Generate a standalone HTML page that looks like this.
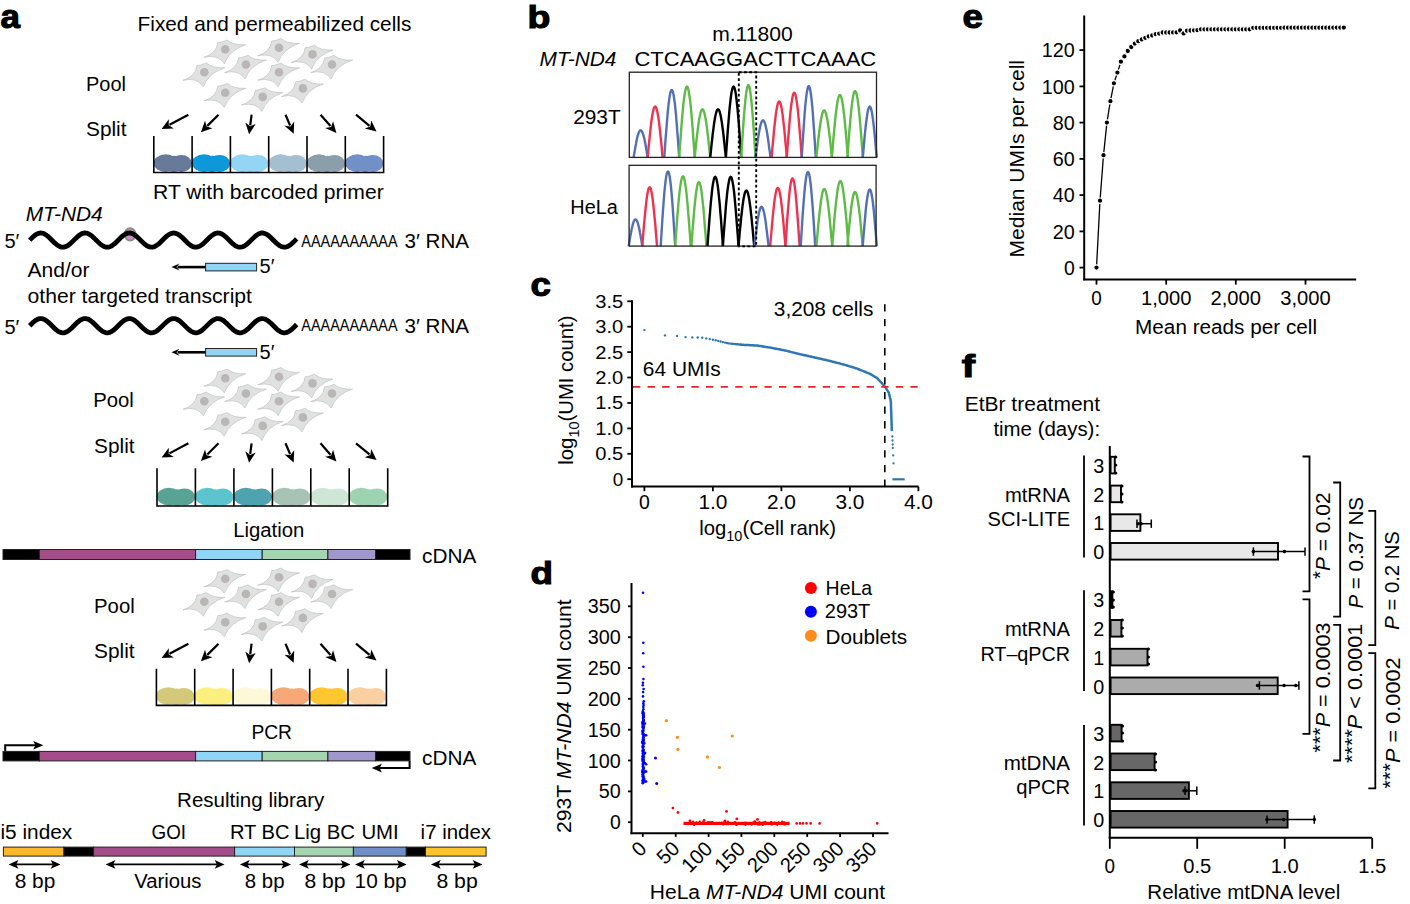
<!DOCTYPE html>
<html><head><meta charset="utf-8"><style>
html,body{margin:0;padding:0;background:#fff;width:1410px;height:904px;overflow:hidden}
svg{display:block;font-family:"Liberation Sans", sans-serif}
</style></head><body>
<svg width="1410" height="904" viewBox="0 0 1410 904">
<rect width="1410" height="904" fill="#fff"/>
<text transform="translate(0.5,28) scale(1.03,1)" font-size="34" font-weight="bold" stroke="#000" stroke-width="1.1">a</text>
<text x="137.6" y="31.0" font-size="20.3" textLength="273.7" lengthAdjust="spacingAndGlyphs">Fixed and permeabilized cells</text>
<g transform="translate(225.2,49.2)"><path d="M-21.3,8.1 Q-8.6,4.3 -7.4,-6.6 L-3.5,-7.2 L2.1,-9.2 Q7.9,-3.8 20.5,-4.4 Q4.4,0.6 -0.9,14.6 Q-6.9,4.8 -21.3,8.1 Z" fill="#e0e1e1" stroke="#b0b0b0" stroke-width="0.5"/><circle r="4.3" fill="#bab6b6"/></g>
<g transform="translate(279.0,47.7)"><path d="M-21.3,8.1 Q-8.6,4.3 -7.4,-6.6 L-3.5,-7.2 L2.1,-9.2 Q7.9,-3.8 20.5,-4.4 Q4.4,0.6 -0.9,14.6 Q-6.9,4.8 -21.3,8.1 Z" fill="#e0e1e1" stroke="#b0b0b0" stroke-width="0.5"/><circle r="4.3" fill="#bab6b6"/></g>
<g transform="translate(312.5,54.4)"><path d="M-21.3,8.1 Q-8.6,4.3 -7.4,-6.6 L-3.5,-7.2 L2.1,-9.2 Q7.9,-3.8 20.5,-4.4 Q4.4,0.6 -0.9,14.6 Q-6.9,4.8 -21.3,8.1 Z" fill="#e0e1e1" stroke="#b0b0b0" stroke-width="0.5"/><circle r="4.3" fill="#bab6b6"/></g>
<g transform="translate(245.9,64.5)"><path d="M-21.3,8.1 Q-8.6,4.3 -7.4,-6.6 L-3.5,-7.2 L2.1,-9.2 Q7.9,-3.8 20.5,-4.4 Q4.4,0.6 -0.9,14.6 Q-6.9,4.8 -21.3,8.1 Z" fill="#e0e1e1" stroke="#b0b0b0" stroke-width="0.5"/><circle r="4.3" fill="#bab6b6"/></g>
<g transform="translate(204.3,72.2)"><path d="M-21.3,8.1 Q-8.6,4.3 -7.4,-6.6 L-3.5,-7.2 L2.1,-9.2 Q7.9,-3.8 20.5,-4.4 Q4.4,0.6 -0.9,14.6 Q-6.9,4.8 -21.3,8.1 Z" fill="#e0e1e1" stroke="#b0b0b0" stroke-width="0.5"/><circle r="4.3" fill="#bab6b6"/></g>
<g transform="translate(279.0,72.2)"><path d="M-21.3,8.1 Q-8.6,4.3 -7.4,-6.6 L-3.5,-7.2 L2.1,-9.2 Q7.9,-3.8 20.5,-4.4 Q4.4,0.6 -0.9,14.6 Q-6.9,4.8 -21.3,8.1 Z" fill="#e0e1e1" stroke="#b0b0b0" stroke-width="0.5"/><circle r="4.3" fill="#bab6b6"/></g>
<g transform="translate(332.0,64.5)"><path d="M-21.3,8.1 Q-8.6,4.3 -7.4,-6.6 L-3.5,-7.2 L2.1,-9.2 Q7.9,-3.8 20.5,-4.4 Q4.4,0.6 -0.9,14.6 Q-6.9,4.8 -21.3,8.1 Z" fill="#e0e1e1" stroke="#b0b0b0" stroke-width="0.5"/><circle r="4.3" fill="#bab6b6"/></g>
<g transform="translate(225.2,92.7)"><path d="M-21.3,8.1 Q-8.6,4.3 -7.4,-6.6 L-3.5,-7.2 L2.1,-9.2 Q7.9,-3.8 20.5,-4.4 Q4.4,0.6 -0.9,14.6 Q-6.9,4.8 -21.3,8.1 Z" fill="#e0e1e1" stroke="#b0b0b0" stroke-width="0.5"/><circle r="4.3" fill="#bab6b6"/></g>
<g transform="translate(262.7,96.9)"><path d="M-21.3,8.1 Q-8.6,4.3 -7.4,-6.6 L-3.5,-7.2 L2.1,-9.2 Q7.9,-3.8 20.5,-4.4 Q4.4,0.6 -0.9,14.6 Q-6.9,4.8 -21.3,8.1 Z" fill="#e0e1e1" stroke="#b0b0b0" stroke-width="0.5"/><circle r="4.3" fill="#bab6b6"/></g>
<g transform="translate(302.9,88.4)"><path d="M-21.3,8.1 Q-8.6,4.3 -7.4,-6.6 L-3.5,-7.2 L2.1,-9.2 Q7.9,-3.8 20.5,-4.4 Q4.4,0.6 -0.9,14.6 Q-6.9,4.8 -21.3,8.1 Z" fill="#e0e1e1" stroke="#b0b0b0" stroke-width="0.5"/><circle r="4.3" fill="#bab6b6"/></g>
<text x="86.0" y="90.8" font-size="20" textLength="40.0" lengthAdjust="spacingAndGlyphs">Pool</text>
<text x="86.0" y="135.6" font-size="20" textLength="40.5" lengthAdjust="spacingAndGlyphs">Split</text>
<line x1="188.4" y1="114.7" x2="169.5" y2="124.8" stroke="#000" stroke-width="2.2"/>
<path d="M161.6,129.0 L168.8,119.2 L168.7,125.2 L173.8,128.5 Z" fill="#000"/>
<line x1="218.5" y1="114.7" x2="207.3" y2="125.9" stroke="#000" stroke-width="2.2"/>
<path d="M200.9,132.3 L205.0,120.8 L206.6,126.6 L212.4,128.2 Z" fill="#000"/>
<line x1="251.6" y1="114.7" x2="250.2" y2="125.3" stroke="#000" stroke-width="2.2"/>
<path d="M249.1,134.2 L245.3,122.6 L250.1,126.3 L255.7,124.0 Z" fill="#000"/>
<line x1="285.5" y1="114.7" x2="290.1" y2="125.5" stroke="#000" stroke-width="2.2"/>
<path d="M293.7,133.8 L284.5,125.8 L290.5,126.4 L294.2,121.6 Z" fill="#000"/>
<line x1="320.5" y1="114.7" x2="330.5" y2="126.1" stroke="#000" stroke-width="2.2"/>
<path d="M336.4,132.9 L325.2,128.1 L331.1,126.9 L333.1,121.2 Z" fill="#000"/>
<line x1="356.0" y1="114.7" x2="369.5" y2="125.8" stroke="#000" stroke-width="2.2"/>
<path d="M376.5,131.5 L364.7,128.6 L370.3,126.4 L371.3,120.5 Z" fill="#000"/>
<ellipse cx="165.8" cy="163.1" rx="12.3" ry="8.8" fill="#687a9a"/>
<ellipse cx="181.3" cy="163.5" rx="10.6" ry="8.5" fill="#687a9a"/>
<ellipse cx="173.8" cy="164.0" rx="9" ry="8.3" fill="#687a9a"/>
<ellipse cx="204.1" cy="163.1" rx="12.3" ry="8.8" fill="#0e97d9"/>
<ellipse cx="219.6" cy="163.5" rx="10.6" ry="8.5" fill="#0e97d9"/>
<ellipse cx="212.1" cy="164.0" rx="9" ry="8.3" fill="#0e97d9"/>
<ellipse cx="242.4" cy="163.1" rx="12.3" ry="8.8" fill="#93d5f5"/>
<ellipse cx="257.9" cy="163.5" rx="10.6" ry="8.5" fill="#93d5f5"/>
<ellipse cx="250.4" cy="164.0" rx="9" ry="8.3" fill="#93d5f5"/>
<ellipse cx="280.7" cy="163.1" rx="12.3" ry="8.8" fill="#a3bfd0"/>
<ellipse cx="296.2" cy="163.5" rx="10.6" ry="8.5" fill="#a3bfd0"/>
<ellipse cx="288.7" cy="164.0" rx="9" ry="8.3" fill="#a3bfd0"/>
<ellipse cx="319.0" cy="163.1" rx="12.3" ry="8.8" fill="#8a9fa9"/>
<ellipse cx="334.5" cy="163.5" rx="10.6" ry="8.5" fill="#8a9fa9"/>
<ellipse cx="327.0" cy="164.0" rx="9" ry="8.3" fill="#8a9fa9"/>
<ellipse cx="357.3" cy="163.1" rx="12.3" ry="8.8" fill="#7290c8"/>
<ellipse cx="372.8" cy="163.5" rx="10.6" ry="8.5" fill="#7290c8"/>
<ellipse cx="365.3" cy="164.0" rx="9" ry="8.3" fill="#7290c8"/>
<path d="M153.8,136.0 V172.5 H383.6 V136.0" fill="none" stroke="#000" stroke-width="1.6"/>
<line x1="192.1" y1="136.0" x2="192.1" y2="172.5" stroke="#000" stroke-width="1.6"/>
<line x1="230.4" y1="136.0" x2="230.4" y2="172.5" stroke="#000" stroke-width="1.6"/>
<line x1="268.7" y1="136.0" x2="268.7" y2="172.5" stroke="#000" stroke-width="1.6"/>
<line x1="307.0" y1="136.0" x2="307.0" y2="172.5" stroke="#000" stroke-width="1.6"/>
<line x1="345.3" y1="136.0" x2="345.3" y2="172.5" stroke="#000" stroke-width="1.6"/>
<text x="153.0" y="199.0" font-size="20.3" textLength="230.7" lengthAdjust="spacingAndGlyphs">RT with barcoded primer</text>
<text x="25.7" y="221.0" font-size="20" textLength="77.0" lengthAdjust="spacingAndGlyphs" font-style="italic">MT-ND4</text>
<ellipse cx="130.1" cy="234.4" rx="5.4" ry="6.3" fill="#cf8cc0" stroke="#8a8a8a" stroke-width="1.8"/>
<polyline points="29.7,240.10 30.7,239.10 31.7,238.11 32.7,237.17 33.7,236.28 34.7,235.48 35.7,234.76 36.7,234.15 37.7,233.66 38.7,233.31 39.7,233.08 40.7,233.00 41.7,233.06 42.7,233.26 43.7,233.60 44.7,234.07 45.7,234.66 46.7,235.36 47.7,236.16 48.7,237.03 49.7,237.97 50.7,238.95 51.7,239.95 52.7,240.95 53.7,241.94 54.7,242.89 55.7,243.79 56.7,244.61 57.7,245.34 58.7,245.96 59.7,246.47 60.7,246.85 61.7,247.09 62.7,247.20 63.7,247.16 64.7,246.98 65.7,246.66 66.7,246.21 67.7,245.63 68.7,244.95 69.7,244.17 70.7,243.30 71.7,242.38 72.7,241.40 73.7,240.40 74.7,239.40 75.7,238.40 76.7,237.45 77.7,236.54 78.7,235.71 79.7,234.97 80.7,234.32 81.7,233.80 82.7,233.40 83.7,233.13 84.7,233.01 85.7,233.03 86.7,233.19 87.7,233.49 88.7,233.92 89.7,234.47 90.7,235.14 91.7,235.91 92.7,236.76 93.7,237.68 94.7,238.65 95.7,239.65 96.7,240.65 97.7,241.65 98.7,242.61 99.7,243.53 100.7,244.37 101.7,245.13 102.7,245.79 103.7,246.33 104.7,246.75 105.7,247.03 106.7,247.18 107.7,247.18 108.7,247.05 109.7,246.77 110.7,246.35 111.7,245.82 112.7,245.16 113.7,244.41 114.7,243.57 115.7,242.66 116.7,241.70 117.7,240.70 118.7,239.70 119.7,238.70 120.7,237.73 121.7,236.81 122.7,235.95 123.7,235.18 124.7,234.50 125.7,233.94 126.7,233.50 127.7,233.20 128.7,233.03 129.7,233.01 130.7,233.13 131.7,233.38 132.7,233.77 133.7,234.29 134.7,234.93 135.7,235.67 136.7,236.50 137.7,237.40 138.7,238.36 139.7,239.35 140.7,240.35 141.7,241.35 142.7,242.33 143.7,243.26 144.7,244.13 145.7,244.91 146.7,245.60 147.7,246.18 148.7,246.64 149.7,246.96 150.7,247.15 151.7,247.20 152.7,247.10 153.7,246.86 154.7,246.49 155.7,245.99 156.7,245.37 157.7,244.65 158.7,243.83 159.7,242.94 160.7,241.99 161.7,241.00 162.7,240.00 163.7,239.00 164.7,238.02 165.7,237.08 166.7,236.20 167.7,235.40 168.7,234.70 169.7,234.10 170.7,233.62 171.7,233.28 172.7,233.07 173.7,233.00 174.7,233.07 175.7,233.29 176.7,233.64 177.7,234.13 178.7,234.73 179.7,235.44 180.7,236.24 181.7,237.12 182.7,238.06 183.7,239.05 184.7,240.05 185.7,241.05 186.7,242.04 187.7,242.98 188.7,243.87 189.7,244.69 190.7,245.41 191.7,246.02 192.7,246.51 193.7,246.88 194.7,247.11 195.7,247.20 196.7,247.15 197.7,246.95 198.7,246.62 199.7,246.15 200.7,245.57 201.7,244.87 202.7,244.08 203.7,243.21 204.7,242.28 205.7,241.30 206.7,240.30 207.7,239.30 208.7,238.31 209.7,237.35 210.7,236.46 211.7,235.63 212.7,234.90 213.7,234.27 214.7,233.75 215.7,233.37 216.7,233.12 217.7,233.01 218.7,233.04 219.7,233.21 220.7,233.52 221.7,233.97 222.7,234.54 223.7,235.21 224.7,235.99 225.7,236.85 226.7,237.78 227.7,238.75 228.7,239.75 229.7,240.75 230.7,241.75 231.7,242.71 232.7,243.61 233.7,244.45 234.7,245.20 235.7,245.85 236.7,246.38 237.7,246.78 238.7,247.06 239.7,247.19 240.7,247.18 241.7,247.02 242.7,246.73 243.7,246.31 244.7,245.76 245.7,245.09 246.7,244.33 247.7,243.48 248.7,242.57 249.7,241.60 250.7,240.60 251.7,239.60 252.7,238.60 253.7,237.63 254.7,236.72 255.7,235.87 256.7,235.11 257.7,234.44 258.7,233.89 259.7,233.47 260.7,233.18 261.7,233.02 262.7,233.01 263.7,233.14 264.7,233.42 265.7,233.82 266.7,234.35 267.7,235.00 268.7,235.75 269.7,236.59 270.7,237.49 271.7,238.45 272.7,239.45 273.7,240.45 274.7,241.45 275.7,242.42 276.7,243.35 277.7,244.21 278.7,244.99 279.7,245.66 280.7,246.23 281.7,246.68 282.7,246.99 283.7,247.16 284.7,247.19 285.7,247.08 286.7,246.83 287.7,246.45 288.7,245.93 289.7,245.30 290.7,244.57 291.7,243.74 292.7,242.85 293.7,241.89 294.7,240.90 295.7,239.90 296.7,238.90" fill="none" stroke="#000" stroke-width="4.8"/>
<text x="4.4" y="247.8" font-size="20">5′</text>
<text x="301.3" y="246.8" font-size="16.6" textLength="96.3" lengthAdjust="spacingAndGlyphs">AAAAAAAAAA</text>
<text x="404.5" y="248.3" font-size="20" textLength="64.5" lengthAdjust="spacingAndGlyphs">3′ RNA</text>
<line x1="205.7" y1="267.1" x2="177.5" y2="267.1" stroke="#000" stroke-width="2.6"/>
<path d="M171.5,267.1 L179.5,263.6 L176.5,267.1 L179.5,270.6 Z" fill="#000"/>
<rect x="205.6" y="263.3" width="51.0" height="7.6" fill="#90d5f5" stroke="#222" stroke-width="1"/>
<text x="259.6" y="273.4" font-size="20">5′</text>
<text x="27.5" y="276.9" font-size="20" textLength="62.0" lengthAdjust="spacingAndGlyphs">And/or</text>
<text x="27.5" y="302.6" font-size="20.3" textLength="224.5" lengthAdjust="spacingAndGlyphs">other targeted transcript</text>
<polyline points="29.7,325.70 30.7,324.70 31.7,323.71 32.7,322.77 33.7,321.88 34.7,321.08 35.7,320.36 36.7,319.75 37.7,319.26 38.7,318.91 39.7,318.68 40.7,318.60 41.7,318.66 42.7,318.86 43.7,319.20 44.7,319.67 45.7,320.26 46.7,320.96 47.7,321.76 48.7,322.63 49.7,323.57 50.7,324.55 51.7,325.55 52.7,326.55 53.7,327.54 54.7,328.49 55.7,329.39 56.7,330.21 57.7,330.94 58.7,331.56 59.7,332.07 60.7,332.45 61.7,332.69 62.7,332.80 63.7,332.76 64.7,332.58 65.7,332.26 66.7,331.81 67.7,331.23 68.7,330.55 69.7,329.77 70.7,328.90 71.7,327.98 72.7,327.00 73.7,326.00 74.7,325.00 75.7,324.00 76.7,323.05 77.7,322.14 78.7,321.31 79.7,320.57 80.7,319.92 81.7,319.40 82.7,319.00 83.7,318.73 84.7,318.61 85.7,318.63 86.7,318.79 87.7,319.09 88.7,319.52 89.7,320.07 90.7,320.74 91.7,321.51 92.7,322.36 93.7,323.28 94.7,324.25 95.7,325.25 96.7,326.25 97.7,327.25 98.7,328.21 99.7,329.13 100.7,329.97 101.7,330.73 102.7,331.39 103.7,331.93 104.7,332.35 105.7,332.63 106.7,332.78 107.7,332.78 108.7,332.65 109.7,332.37 110.7,331.95 111.7,331.42 112.7,330.76 113.7,330.01 114.7,329.17 115.7,328.26 116.7,327.30 117.7,326.30 118.7,325.30 119.7,324.30 120.7,323.33 121.7,322.41 122.7,321.55 123.7,320.78 124.7,320.10 125.7,319.54 126.7,319.10 127.7,318.80 128.7,318.63 129.7,318.61 130.7,318.73 131.7,318.98 132.7,319.37 133.7,319.89 134.7,320.53 135.7,321.27 136.7,322.10 137.7,323.00 138.7,323.96 139.7,324.95 140.7,325.95 141.7,326.95 142.7,327.93 143.7,328.86 144.7,329.73 145.7,330.51 146.7,331.20 147.7,331.78 148.7,332.24 149.7,332.56 150.7,332.75 151.7,332.80 152.7,332.70 153.7,332.46 154.7,332.09 155.7,331.59 156.7,330.97 157.7,330.25 158.7,329.43 159.7,328.54 160.7,327.59 161.7,326.60 162.7,325.60 163.7,324.60 164.7,323.62 165.7,322.68 166.7,321.80 167.7,321.00 168.7,320.30 169.7,319.70 170.7,319.22 171.7,318.88 172.7,318.67 173.7,318.60 174.7,318.67 175.7,318.89 176.7,319.24 177.7,319.73 178.7,320.33 179.7,321.04 180.7,321.84 181.7,322.72 182.7,323.66 183.7,324.65 184.7,325.65 185.7,326.65 186.7,327.64 187.7,328.58 188.7,329.47 189.7,330.29 190.7,331.01 191.7,331.62 192.7,332.11 193.7,332.48 194.7,332.71 195.7,332.80 196.7,332.75 197.7,332.55 198.7,332.22 199.7,331.75 200.7,331.17 201.7,330.47 202.7,329.68 203.7,328.81 204.7,327.88 205.7,326.90 206.7,325.90 207.7,324.90 208.7,323.91 209.7,322.95 210.7,322.06 211.7,321.23 212.7,320.50 213.7,319.87 214.7,319.35 215.7,318.97 216.7,318.72 217.7,318.61 218.7,318.64 219.7,318.81 220.7,319.12 221.7,319.57 222.7,320.14 223.7,320.81 224.7,321.59 225.7,322.45 226.7,323.38 227.7,324.35 228.7,325.35 229.7,326.35 230.7,327.35 231.7,328.31 232.7,329.21 233.7,330.05 234.7,330.80 235.7,331.45 236.7,331.98 237.7,332.38 238.7,332.66 239.7,332.79 240.7,332.78 241.7,332.62 242.7,332.33 243.7,331.91 244.7,331.36 245.7,330.69 246.7,329.93 247.7,329.08 248.7,328.17 249.7,327.20 250.7,326.20 251.7,325.20 252.7,324.20 253.7,323.23 254.7,322.32 255.7,321.47 256.7,320.71 257.7,320.04 258.7,319.49 259.7,319.07 260.7,318.78 261.7,318.62 262.7,318.61 263.7,318.74 264.7,319.02 265.7,319.42 266.7,319.95 267.7,320.60 268.7,321.35 269.7,322.19 270.7,323.09 271.7,324.05 272.7,325.05 273.7,326.05 274.7,327.05 275.7,328.02 276.7,328.95 277.7,329.81 278.7,330.59 279.7,331.26 280.7,331.83 281.7,332.28 282.7,332.59 283.7,332.76 284.7,332.79 285.7,332.68 286.7,332.43 287.7,332.05 288.7,331.53 289.7,330.90 290.7,330.17 291.7,329.34 292.7,328.45 293.7,327.49 294.7,326.50 295.7,325.50 296.7,324.50" fill="none" stroke="#000" stroke-width="4.8"/>
<text x="4.4" y="333.5" font-size="20">5′</text>
<text x="301.3" y="331.4" font-size="16.6" textLength="96.3" lengthAdjust="spacingAndGlyphs">AAAAAAAAAA</text>
<text x="404.5" y="333.0" font-size="20" textLength="64.5" lengthAdjust="spacingAndGlyphs">3′ RNA</text>
<line x1="205.7" y1="352.3" x2="177.5" y2="352.3" stroke="#000" stroke-width="2.6"/>
<path d="M171.5,352.3 L179.5,348.8 L176.5,352.3 L179.5,355.8 Z" fill="#000"/>
<rect x="205.6" y="348.5" width="51.0" height="7.6" fill="#90d5f5" stroke="#222" stroke-width="1"/>
<text x="259.6" y="358.6" font-size="20">5′</text>
<g transform="translate(225.2,378.2)"><path d="M-21.3,8.1 Q-8.6,4.3 -7.4,-6.6 L-3.5,-7.2 L2.1,-9.2 Q7.9,-3.8 20.5,-4.4 Q4.4,0.6 -0.9,14.6 Q-6.9,4.8 -21.3,8.1 Z" fill="#e0e1e1" stroke="#b0b0b0" stroke-width="0.5"/><circle r="4.3" fill="#bab6b6"/></g>
<g transform="translate(279.0,376.7)"><path d="M-21.3,8.1 Q-8.6,4.3 -7.4,-6.6 L-3.5,-7.2 L2.1,-9.2 Q7.9,-3.8 20.5,-4.4 Q4.4,0.6 -0.9,14.6 Q-6.9,4.8 -21.3,8.1 Z" fill="#e0e1e1" stroke="#b0b0b0" stroke-width="0.5"/><circle r="4.3" fill="#bab6b6"/></g>
<g transform="translate(312.5,383.4)"><path d="M-21.3,8.1 Q-8.6,4.3 -7.4,-6.6 L-3.5,-7.2 L2.1,-9.2 Q7.9,-3.8 20.5,-4.4 Q4.4,0.6 -0.9,14.6 Q-6.9,4.8 -21.3,8.1 Z" fill="#e0e1e1" stroke="#b0b0b0" stroke-width="0.5"/><circle r="4.3" fill="#bab6b6"/></g>
<g transform="translate(245.9,393.5)"><path d="M-21.3,8.1 Q-8.6,4.3 -7.4,-6.6 L-3.5,-7.2 L2.1,-9.2 Q7.9,-3.8 20.5,-4.4 Q4.4,0.6 -0.9,14.6 Q-6.9,4.8 -21.3,8.1 Z" fill="#e0e1e1" stroke="#b0b0b0" stroke-width="0.5"/><circle r="4.3" fill="#bab6b6"/></g>
<g transform="translate(204.3,401.2)"><path d="M-21.3,8.1 Q-8.6,4.3 -7.4,-6.6 L-3.5,-7.2 L2.1,-9.2 Q7.9,-3.8 20.5,-4.4 Q4.4,0.6 -0.9,14.6 Q-6.9,4.8 -21.3,8.1 Z" fill="#e0e1e1" stroke="#b0b0b0" stroke-width="0.5"/><circle r="4.3" fill="#bab6b6"/></g>
<g transform="translate(279.0,401.2)"><path d="M-21.3,8.1 Q-8.6,4.3 -7.4,-6.6 L-3.5,-7.2 L2.1,-9.2 Q7.9,-3.8 20.5,-4.4 Q4.4,0.6 -0.9,14.6 Q-6.9,4.8 -21.3,8.1 Z" fill="#e0e1e1" stroke="#b0b0b0" stroke-width="0.5"/><circle r="4.3" fill="#bab6b6"/></g>
<g transform="translate(332.0,393.5)"><path d="M-21.3,8.1 Q-8.6,4.3 -7.4,-6.6 L-3.5,-7.2 L2.1,-9.2 Q7.9,-3.8 20.5,-4.4 Q4.4,0.6 -0.9,14.6 Q-6.9,4.8 -21.3,8.1 Z" fill="#e0e1e1" stroke="#b0b0b0" stroke-width="0.5"/><circle r="4.3" fill="#bab6b6"/></g>
<g transform="translate(225.2,421.7)"><path d="M-21.3,8.1 Q-8.6,4.3 -7.4,-6.6 L-3.5,-7.2 L2.1,-9.2 Q7.9,-3.8 20.5,-4.4 Q4.4,0.6 -0.9,14.6 Q-6.9,4.8 -21.3,8.1 Z" fill="#e0e1e1" stroke="#b0b0b0" stroke-width="0.5"/><circle r="4.3" fill="#bab6b6"/></g>
<g transform="translate(262.7,425.9)"><path d="M-21.3,8.1 Q-8.6,4.3 -7.4,-6.6 L-3.5,-7.2 L2.1,-9.2 Q7.9,-3.8 20.5,-4.4 Q4.4,0.6 -0.9,14.6 Q-6.9,4.8 -21.3,8.1 Z" fill="#e0e1e1" stroke="#b0b0b0" stroke-width="0.5"/><circle r="4.3" fill="#bab6b6"/></g>
<g transform="translate(302.9,417.4)"><path d="M-21.3,8.1 Q-8.6,4.3 -7.4,-6.6 L-3.5,-7.2 L2.1,-9.2 Q7.9,-3.8 20.5,-4.4 Q4.4,0.6 -0.9,14.6 Q-6.9,4.8 -21.3,8.1 Z" fill="#e0e1e1" stroke="#b0b0b0" stroke-width="0.5"/><circle r="4.3" fill="#bab6b6"/></g>
<text x="93.2" y="407.0" font-size="20" textLength="40.6" lengthAdjust="spacingAndGlyphs">Pool</text>
<text x="94.1" y="452.9" font-size="20" textLength="40.5" lengthAdjust="spacingAndGlyphs">Split</text>
<line x1="188.4" y1="443.3" x2="169.5" y2="453.4" stroke="#000" stroke-width="2.2"/>
<path d="M161.6,457.6 L168.8,447.8 L168.7,453.8 L173.8,457.1 Z" fill="#000"/>
<line x1="218.5" y1="443.3" x2="207.3" y2="454.5" stroke="#000" stroke-width="2.2"/>
<path d="M200.9,460.9 L205.0,449.4 L206.6,455.2 L212.4,456.8 Z" fill="#000"/>
<line x1="251.6" y1="443.3" x2="250.2" y2="453.9" stroke="#000" stroke-width="2.2"/>
<path d="M249.1,462.8 L245.3,451.2 L250.1,454.9 L255.7,452.6 Z" fill="#000"/>
<line x1="285.5" y1="443.3" x2="290.1" y2="454.1" stroke="#000" stroke-width="2.2"/>
<path d="M293.7,462.4 L284.5,454.4 L290.5,455.0 L294.2,450.2 Z" fill="#000"/>
<line x1="320.5" y1="443.3" x2="330.5" y2="454.7" stroke="#000" stroke-width="2.2"/>
<path d="M336.4,461.5 L325.2,456.7 L331.1,455.5 L333.1,449.8 Z" fill="#000"/>
<line x1="356.0" y1="443.3" x2="369.5" y2="454.4" stroke="#000" stroke-width="2.2"/>
<path d="M376.5,460.1 L364.7,457.2 L370.3,455.0 L371.3,449.1 Z" fill="#000"/>
<ellipse cx="169.0" cy="496.6" rx="12.3" ry="8.8" fill="#58a394"/>
<ellipse cx="184.5" cy="497.0" rx="10.6" ry="8.5" fill="#58a394"/>
<ellipse cx="177.0" cy="497.5" rx="9" ry="8.3" fill="#58a394"/>
<ellipse cx="207.4" cy="496.6" rx="12.3" ry="8.8" fill="#5cc4cf"/>
<ellipse cx="222.9" cy="497.0" rx="10.6" ry="8.5" fill="#5cc4cf"/>
<ellipse cx="215.4" cy="497.5" rx="9" ry="8.3" fill="#5cc4cf"/>
<ellipse cx="245.9" cy="496.6" rx="12.3" ry="8.8" fill="#4fa3b0"/>
<ellipse cx="261.4" cy="497.0" rx="10.6" ry="8.5" fill="#4fa3b0"/>
<ellipse cx="253.9" cy="497.5" rx="9" ry="8.3" fill="#4fa3b0"/>
<ellipse cx="284.4" cy="496.6" rx="12.3" ry="8.8" fill="#a7c3b5"/>
<ellipse cx="299.9" cy="497.0" rx="10.6" ry="8.5" fill="#a7c3b5"/>
<ellipse cx="292.4" cy="497.5" rx="9" ry="8.3" fill="#a7c3b5"/>
<ellipse cx="322.8" cy="496.6" rx="12.3" ry="8.8" fill="#cde6d6"/>
<ellipse cx="338.3" cy="497.0" rx="10.6" ry="8.5" fill="#cde6d6"/>
<ellipse cx="330.8" cy="497.5" rx="9" ry="8.3" fill="#cde6d6"/>
<ellipse cx="361.2" cy="496.6" rx="12.3" ry="8.8" fill="#9dd3b0"/>
<ellipse cx="376.8" cy="497.0" rx="10.6" ry="8.5" fill="#9dd3b0"/>
<ellipse cx="369.2" cy="497.5" rx="9" ry="8.3" fill="#9dd3b0"/>
<path d="M157.0,468.3 V506.0 H387.7 V468.3" fill="none" stroke="#000" stroke-width="1.6"/>
<line x1="195.4" y1="468.3" x2="195.4" y2="506.0" stroke="#000" stroke-width="1.6"/>
<line x1="233.9" y1="468.3" x2="233.9" y2="506.0" stroke="#000" stroke-width="1.6"/>
<line x1="272.4" y1="468.3" x2="272.4" y2="506.0" stroke="#000" stroke-width="1.6"/>
<line x1="310.8" y1="468.3" x2="310.8" y2="506.0" stroke="#000" stroke-width="1.6"/>
<line x1="349.2" y1="468.3" x2="349.2" y2="506.0" stroke="#000" stroke-width="1.6"/>
<text x="233.2" y="536.5" font-size="20" textLength="71.1" lengthAdjust="spacingAndGlyphs">Ligation</text>
<text x="422.1" y="563.0" font-size="20" textLength="54.3" lengthAdjust="spacingAndGlyphs">cDNA</text>
<rect x="3.0" y="549.5" width="36.4" height="10.0" fill="#000" stroke="#222" stroke-width="1.0"/>
<rect x="39.4" y="549.5" width="156.2" height="10.0" fill="#a54c8a" stroke="#222" stroke-width="1.0"/>
<rect x="195.6" y="549.5" width="66.6" height="10.0" fill="#8fd5f5" stroke="#222" stroke-width="1.0"/>
<rect x="262.2" y="549.5" width="65.7" height="10.0" fill="#a3d6b0" stroke="#222" stroke-width="1.0"/>
<rect x="327.9" y="549.5" width="47.7" height="10.0" fill="#a097cc" stroke="#222" stroke-width="1.0"/>
<rect x="375.6" y="549.5" width="34.4" height="10.0" fill="#000" stroke="#222" stroke-width="1.0"/>
<g transform="translate(225.2,578.7)"><path d="M-21.3,8.1 Q-8.6,4.3 -7.4,-6.6 L-3.5,-7.2 L2.1,-9.2 Q7.9,-3.8 20.5,-4.4 Q4.4,0.6 -0.9,14.6 Q-6.9,4.8 -21.3,8.1 Z" fill="#e0e1e1" stroke="#b0b0b0" stroke-width="0.5"/><circle r="4.3" fill="#bab6b6"/></g>
<g transform="translate(279.0,577.2)"><path d="M-21.3,8.1 Q-8.6,4.3 -7.4,-6.6 L-3.5,-7.2 L2.1,-9.2 Q7.9,-3.8 20.5,-4.4 Q4.4,0.6 -0.9,14.6 Q-6.9,4.8 -21.3,8.1 Z" fill="#e0e1e1" stroke="#b0b0b0" stroke-width="0.5"/><circle r="4.3" fill="#bab6b6"/></g>
<g transform="translate(312.5,583.9)"><path d="M-21.3,8.1 Q-8.6,4.3 -7.4,-6.6 L-3.5,-7.2 L2.1,-9.2 Q7.9,-3.8 20.5,-4.4 Q4.4,0.6 -0.9,14.6 Q-6.9,4.8 -21.3,8.1 Z" fill="#e0e1e1" stroke="#b0b0b0" stroke-width="0.5"/><circle r="4.3" fill="#bab6b6"/></g>
<g transform="translate(245.9,594.0)"><path d="M-21.3,8.1 Q-8.6,4.3 -7.4,-6.6 L-3.5,-7.2 L2.1,-9.2 Q7.9,-3.8 20.5,-4.4 Q4.4,0.6 -0.9,14.6 Q-6.9,4.8 -21.3,8.1 Z" fill="#e0e1e1" stroke="#b0b0b0" stroke-width="0.5"/><circle r="4.3" fill="#bab6b6"/></g>
<g transform="translate(204.3,601.7)"><path d="M-21.3,8.1 Q-8.6,4.3 -7.4,-6.6 L-3.5,-7.2 L2.1,-9.2 Q7.9,-3.8 20.5,-4.4 Q4.4,0.6 -0.9,14.6 Q-6.9,4.8 -21.3,8.1 Z" fill="#e0e1e1" stroke="#b0b0b0" stroke-width="0.5"/><circle r="4.3" fill="#bab6b6"/></g>
<g transform="translate(279.0,601.7)"><path d="M-21.3,8.1 Q-8.6,4.3 -7.4,-6.6 L-3.5,-7.2 L2.1,-9.2 Q7.9,-3.8 20.5,-4.4 Q4.4,0.6 -0.9,14.6 Q-6.9,4.8 -21.3,8.1 Z" fill="#e0e1e1" stroke="#b0b0b0" stroke-width="0.5"/><circle r="4.3" fill="#bab6b6"/></g>
<g transform="translate(332.0,594.0)"><path d="M-21.3,8.1 Q-8.6,4.3 -7.4,-6.6 L-3.5,-7.2 L2.1,-9.2 Q7.9,-3.8 20.5,-4.4 Q4.4,0.6 -0.9,14.6 Q-6.9,4.8 -21.3,8.1 Z" fill="#e0e1e1" stroke="#b0b0b0" stroke-width="0.5"/><circle r="4.3" fill="#bab6b6"/></g>
<g transform="translate(225.2,622.2)"><path d="M-21.3,8.1 Q-8.6,4.3 -7.4,-6.6 L-3.5,-7.2 L2.1,-9.2 Q7.9,-3.8 20.5,-4.4 Q4.4,0.6 -0.9,14.6 Q-6.9,4.8 -21.3,8.1 Z" fill="#e0e1e1" stroke="#b0b0b0" stroke-width="0.5"/><circle r="4.3" fill="#bab6b6"/></g>
<g transform="translate(262.7,626.4)"><path d="M-21.3,8.1 Q-8.6,4.3 -7.4,-6.6 L-3.5,-7.2 L2.1,-9.2 Q7.9,-3.8 20.5,-4.4 Q4.4,0.6 -0.9,14.6 Q-6.9,4.8 -21.3,8.1 Z" fill="#e0e1e1" stroke="#b0b0b0" stroke-width="0.5"/><circle r="4.3" fill="#bab6b6"/></g>
<g transform="translate(302.9,617.9)"><path d="M-21.3,8.1 Q-8.6,4.3 -7.4,-6.6 L-3.5,-7.2 L2.1,-9.2 Q7.9,-3.8 20.5,-4.4 Q4.4,0.6 -0.9,14.6 Q-6.9,4.8 -21.3,8.1 Z" fill="#e0e1e1" stroke="#b0b0b0" stroke-width="0.5"/><circle r="4.3" fill="#bab6b6"/></g>
<text x="94.1" y="612.6" font-size="20" textLength="40.6" lengthAdjust="spacingAndGlyphs">Pool</text>
<text x="94.1" y="657.7" font-size="20" textLength="40.5" lengthAdjust="spacingAndGlyphs">Split</text>
<line x1="188.4" y1="643.7" x2="169.5" y2="653.8" stroke="#000" stroke-width="2.2"/>
<path d="M161.6,658.0 L168.8,648.2 L168.7,654.2 L173.8,657.5 Z" fill="#000"/>
<line x1="218.5" y1="643.7" x2="207.3" y2="654.9" stroke="#000" stroke-width="2.2"/>
<path d="M200.9,661.3 L205.0,649.8 L206.6,655.6 L212.4,657.2 Z" fill="#000"/>
<line x1="251.6" y1="643.7" x2="250.2" y2="654.3" stroke="#000" stroke-width="2.2"/>
<path d="M249.1,663.2 L245.3,651.6 L250.1,655.3 L255.7,653.0 Z" fill="#000"/>
<line x1="285.5" y1="643.7" x2="290.1" y2="654.5" stroke="#000" stroke-width="2.2"/>
<path d="M293.7,662.8 L284.5,654.8 L290.5,655.4 L294.2,650.6 Z" fill="#000"/>
<line x1="320.5" y1="643.7" x2="330.5" y2="655.1" stroke="#000" stroke-width="2.2"/>
<path d="M336.4,661.9 L325.2,657.1 L331.1,655.9 L333.1,650.2 Z" fill="#000"/>
<line x1="356.0" y1="643.7" x2="369.5" y2="654.8" stroke="#000" stroke-width="2.2"/>
<path d="M376.5,660.5 L364.7,657.6 L370.3,655.4 L371.3,649.5 Z" fill="#000"/>
<ellipse cx="168.4" cy="696.0" rx="12.3" ry="8.8" fill="#d4c97a"/>
<ellipse cx="183.9" cy="696.4" rx="10.6" ry="8.5" fill="#d4c97a"/>
<ellipse cx="176.4" cy="696.9" rx="9" ry="8.3" fill="#d4c97a"/>
<ellipse cx="206.7" cy="696.0" rx="12.3" ry="8.8" fill="#fbef80"/>
<ellipse cx="222.2" cy="696.4" rx="10.6" ry="8.5" fill="#fbef80"/>
<ellipse cx="214.7" cy="696.9" rx="9" ry="8.3" fill="#fbef80"/>
<ellipse cx="245.1" cy="696.0" rx="12.3" ry="8.8" fill="#fdf8d8"/>
<ellipse cx="260.6" cy="696.4" rx="10.6" ry="8.5" fill="#fdf8d8"/>
<ellipse cx="253.1" cy="696.9" rx="9" ry="8.3" fill="#fdf8d8"/>
<ellipse cx="283.4" cy="696.0" rx="12.3" ry="8.8" fill="#f6a878"/>
<ellipse cx="298.9" cy="696.4" rx="10.6" ry="8.5" fill="#f6a878"/>
<ellipse cx="291.4" cy="696.9" rx="9" ry="8.3" fill="#f6a878"/>
<ellipse cx="321.7" cy="696.0" rx="12.3" ry="8.8" fill="#fec72f"/>
<ellipse cx="337.2" cy="696.4" rx="10.6" ry="8.5" fill="#fec72f"/>
<ellipse cx="329.7" cy="696.9" rx="9" ry="8.3" fill="#fec72f"/>
<ellipse cx="360.0" cy="696.0" rx="12.3" ry="8.8" fill="#fbd0a0"/>
<ellipse cx="375.5" cy="696.4" rx="10.6" ry="8.5" fill="#fbd0a0"/>
<ellipse cx="368.0" cy="696.9" rx="9" ry="8.3" fill="#fbd0a0"/>
<path d="M156.4,668.7 V705.4 H386.4 V668.7" fill="none" stroke="#000" stroke-width="1.6"/>
<line x1="194.7" y1="668.7" x2="194.7" y2="705.4" stroke="#000" stroke-width="1.6"/>
<line x1="233.1" y1="668.7" x2="233.1" y2="705.4" stroke="#000" stroke-width="1.6"/>
<line x1="271.4" y1="668.7" x2="271.4" y2="705.4" stroke="#000" stroke-width="1.6"/>
<line x1="309.7" y1="668.7" x2="309.7" y2="705.4" stroke="#000" stroke-width="1.6"/>
<line x1="348.0" y1="668.7" x2="348.0" y2="705.4" stroke="#000" stroke-width="1.6"/>
<text x="251.4" y="739.4" font-size="20" textLength="40.5" lengthAdjust="spacingAndGlyphs">PCR</text>
<rect x="3.0" y="751.4" width="36.4" height="9.5" fill="#000" stroke="#222" stroke-width="1.0"/>
<rect x="39.4" y="751.4" width="156.2" height="9.5" fill="#a54c8a" stroke="#222" stroke-width="1.0"/>
<rect x="195.6" y="751.4" width="66.6" height="9.5" fill="#8fd5f5" stroke="#222" stroke-width="1.0"/>
<rect x="262.2" y="751.4" width="65.7" height="9.5" fill="#a3d6b0" stroke="#222" stroke-width="1.0"/>
<rect x="327.9" y="751.4" width="47.7" height="9.5" fill="#a097cc" stroke="#222" stroke-width="1.0"/>
<rect x="375.6" y="751.4" width="34.4" height="9.5" fill="#000" stroke="#222" stroke-width="1.0"/>
<text x="422.1" y="764.7" font-size="20" textLength="54.3" lengthAdjust="spacingAndGlyphs">cDNA</text>
<path d="M5.2,751 V745.2 H38" fill="none" stroke="#000" stroke-width="2"/>
<path d="M43.4,745.2 L33.2,741 L35.5,745.2 L33.2,749.4 Z" fill="#000"/>
<path d="M409.6,761 V768.1 H377" fill="none" stroke="#000" stroke-width="2"/>
<path d="M371.7,768.1 L381.9,763.8 L379.6,768.1 L381.9,772.4 Z" fill="#000"/>
<text x="177.1" y="806.5" font-size="20" textLength="147.2" lengthAdjust="spacingAndGlyphs">Resulting library</text>
<rect x="3.4" y="847.1" width="60.5" height="9.0" fill="#fbb92a" stroke="#222" stroke-width="1.0"/>
<rect x="63.9" y="847.1" width="29.7" height="9.0" fill="#000" stroke="#222" stroke-width="1.0"/>
<rect x="93.6" y="847.1" width="141.0" height="9.0" fill="#a54c8a" stroke="#222" stroke-width="1.0"/>
<rect x="234.6" y="847.1" width="59.9" height="9.0" fill="#8fd5f5" stroke="#222" stroke-width="1.0"/>
<rect x="294.5" y="847.1" width="58.9" height="9.0" fill="#a3d6b0" stroke="#222" stroke-width="1.0"/>
<rect x="353.4" y="847.1" width="52.9" height="9.0" fill="#6f8fc9" stroke="#222" stroke-width="1.0"/>
<rect x="406.3" y="847.1" width="19.2" height="9.0" fill="#000" stroke="#222" stroke-width="1.0"/>
<rect x="425.5" y="847.1" width="60.6" height="9.0" fill="#fbc42a" stroke="#222" stroke-width="1.0"/>
<text x="0.5" y="839.3" font-size="20" textLength="71.7" lengthAdjust="spacingAndGlyphs">i5 index</text>
<text x="151.6" y="839.3" font-size="20" textLength="34.5" lengthAdjust="spacingAndGlyphs">GOI</text>
<text x="229.9" y="839.3" font-size="20" textLength="59.6" lengthAdjust="spacingAndGlyphs">RT BC</text>
<text x="293.9" y="839.3" font-size="20" textLength="61.1" lengthAdjust="spacingAndGlyphs">Lig BC</text>
<text x="361.4" y="839.3" font-size="20" textLength="37.3" lengthAdjust="spacingAndGlyphs">UMI</text>
<text x="420.6" y="839.3" font-size="20" textLength="70.4" lengthAdjust="spacingAndGlyphs">i7 index</text>
<line x1="12.6" y1="864.4" x2="56.5" y2="864.4" stroke="#000" stroke-width="1.6"/>
<path d="M8.6,864.4 L18.4,860.1 L16.2,864.4 L18.4,868.7 Z" fill="#000"/>
<path d="M60.5,864.4 L50.7,860.1 L52.9,864.4 L50.7,868.7 Z" fill="#000"/>
<line x1="109.6" y1="864.4" x2="220.5" y2="864.4" stroke="#000" stroke-width="1.6"/>
<path d="M105.6,864.4 L115.4,860.1 L113.2,864.4 L115.4,868.7 Z" fill="#000"/>
<path d="M224.5,864.4 L214.7,860.1 L216.9,864.4 L214.7,868.7 Z" fill="#000"/>
<line x1="243.9" y1="864.4" x2="287.1" y2="864.4" stroke="#000" stroke-width="1.6"/>
<path d="M239.9,864.4 L249.7,860.1 L247.5,864.4 L249.7,868.7 Z" fill="#000"/>
<path d="M291.1,864.4 L281.3,860.1 L283.5,864.4 L281.3,868.7 Z" fill="#000"/>
<line x1="303.0" y1="864.4" x2="346.5" y2="864.4" stroke="#000" stroke-width="1.6"/>
<path d="M299.0,864.4 L308.8,860.1 L306.6,864.4 L308.8,868.7 Z" fill="#000"/>
<path d="M350.5,864.4 L340.7,860.1 L342.9,864.4 L340.7,868.7 Z" fill="#000"/>
<line x1="359.0" y1="864.4" x2="402.7" y2="864.4" stroke="#000" stroke-width="1.6"/>
<path d="M355.0,864.4 L364.8,860.1 L362.6,864.4 L364.8,868.7 Z" fill="#000"/>
<path d="M406.7,864.4 L396.9,860.1 L399.1,864.4 L396.9,868.7 Z" fill="#000"/>
<line x1="434.9" y1="864.4" x2="478.5" y2="864.4" stroke="#000" stroke-width="1.6"/>
<path d="M430.9,864.4 L440.7,860.1 L438.5,864.4 L440.7,868.7 Z" fill="#000"/>
<path d="M482.5,864.4 L472.7,860.1 L474.9,864.4 L472.7,868.7 Z" fill="#000"/>
<text x="14.7" y="888.0" font-size="20" textLength="40.6" lengthAdjust="spacingAndGlyphs">8 bp</text>
<text x="134.3" y="888.0" font-size="20" textLength="67.2" lengthAdjust="spacingAndGlyphs">Various</text>
<text x="244.8" y="888.0" font-size="20" textLength="39.7" lengthAdjust="spacingAndGlyphs">8 bp</text>
<text x="304.4" y="888.0" font-size="20" textLength="41.1" lengthAdjust="spacingAndGlyphs">8 bp</text>
<text x="354.6" y="888.0" font-size="20" textLength="52.1" lengthAdjust="spacingAndGlyphs">10 bp</text>
<text x="436.4" y="888.0" font-size="20" textLength="41.3" lengthAdjust="spacingAndGlyphs">8 bp</text>
<text transform="translate(527.5,27.5) scale(1.17,1)" font-size="32" font-weight="bold" stroke="#000" stroke-width="1.1">b</text>
<text x="712.2" y="41.1" font-size="20" textLength="80.5" lengthAdjust="spacingAndGlyphs">m.11800</text>
<text x="539.6" y="65.6" font-size="20" textLength="76.8" lengthAdjust="spacingAndGlyphs" font-style="italic">MT-ND4</text>
<text x="634.5" y="65.6" font-size="20" textLength="241.7" lengthAdjust="spacingAndGlyphs">CTCAAGGACTTCAAAC</text>
<text x="573.2" y="123.7" font-size="20" textLength="47.5" lengthAdjust="spacingAndGlyphs">293T</text>
<text x="570.3" y="214.3" font-size="20" textLength="47.5" lengthAdjust="spacingAndGlyphs">HeLa</text>
<polyline points="633.6,157.4 634.2,153.9 634.8,150.4 635.4,147.0 636.0,143.9 636.5,140.9 637.1,138.2 637.7,135.9 638.3,133.9 638.9,132.4 639.5,131.2 640.1,130.5 640.7,130.3 641.2,130.5 641.8,131.2 642.4,132.4 643.0,133.9 643.6,135.9 644.2,138.2 644.8,140.9 645.4,143.9 645.9,147.0 646.5,150.4 647.1,153.9 647.7,157.4" fill="none" stroke="#5470b5" stroke-width="2.4" stroke-linejoin="round"/>
<polyline points="647.7,157.4 648.3,150.8 648.9,144.2 649.6,137.9 650.2,132.0 650.8,126.4 651.4,121.4 652.0,117.0 652.7,113.3 653.3,110.4 653.9,108.2 654.5,106.9 655.2,106.5 655.8,106.9 656.4,108.2 657.0,110.4 657.6,113.3 658.3,117.0 658.9,121.4 659.5,126.4 660.1,132.0 660.7,137.9 661.4,144.2 662.0,150.8 662.6,157.4" fill="none" stroke="#ee3350" stroke-width="2.4" stroke-linejoin="round"/>
<polyline points="664.3,157.4 664.9,148.6 665.5,139.9 666.2,131.6 666.8,123.7 667.4,116.3 668.0,109.7 668.6,103.8 669.3,98.9 669.9,95.0 670.5,92.2 671.1,90.5 671.8,89.9 672.4,90.5 673.0,92.2 673.6,95.0 674.2,98.9 674.9,103.8 675.5,109.7 676.1,116.3 676.7,123.7 677.3,131.6 678.0,139.9 678.6,148.6 679.2,157.4" fill="none" stroke="#5470b5" stroke-width="2.4" stroke-linejoin="round"/>
<polyline points="679.2,157.4 679.8,148.2 680.5,139.1 681.1,130.3 681.8,122.0 682.4,114.3 683.1,107.3 683.7,101.2 684.4,96.1 685.0,92.0 685.7,89.0 686.3,87.2 687.0,86.6 687.6,87.2 688.2,89.0 688.9,92.0 689.5,96.1 690.2,101.2 690.8,107.3 691.5,114.3 692.1,122.0 692.8,130.3 693.4,139.1 694.1,148.2 694.7,157.4" fill="none" stroke="#5dbb46" stroke-width="2.4" stroke-linejoin="round"/>
<polyline points="694.7,157.4 695.3,151.1 696.0,145.0 696.6,139.0 697.3,133.3 697.9,128.1 698.6,123.4 699.2,119.2 699.9,115.7 700.5,113.0 701.2,110.9 701.8,109.7 702.5,109.3 703.1,109.7 703.7,110.9 704.4,113.0 705.0,115.7 705.7,119.2 706.3,123.4 707.0,128.1 707.6,133.3 708.3,139.0 708.9,145.0 709.6,151.1 710.2,157.4" fill="none" stroke="#5dbb46" stroke-width="2.4" stroke-linejoin="round"/>
<polyline points="710.2,157.4 710.9,151.1 711.5,145.0 712.2,139.0 712.8,133.3 713.5,128.1 714.1,123.4 714.8,119.2 715.4,115.7 716.1,113.0 716.7,110.9 717.4,109.7 718.0,109.3 718.7,109.7 719.4,110.9 720.0,113.0 720.7,115.7 721.3,119.2 722.0,123.4 722.6,128.1 723.3,133.3 723.9,139.0 724.6,145.0 725.2,151.1 725.9,157.4" fill="none" stroke="#000" stroke-width="2.4" stroke-linejoin="round"/>
<polyline points="725.9,157.4 726.5,148.2 727.2,139.1 727.8,130.3 728.5,122.0 729.1,114.3 729.7,107.3 730.4,101.2 731.0,96.1 731.6,92.0 732.3,89.0 732.9,87.2 733.5,86.6 734.2,87.2 734.8,89.0 735.5,92.0 736.1,96.1 736.7,101.2 737.4,107.3 738.0,114.3 738.7,122.0 739.3,130.3 739.9,139.1 740.6,148.2 741.2,157.4" fill="none" stroke="#000" stroke-width="2.4" stroke-linejoin="round"/>
<polyline points="741.2,157.4 741.8,147.9 742.4,138.6 743.0,129.7 743.6,121.2 744.2,113.3 744.8,106.1 745.4,99.9 746.0,94.6 746.6,90.4 747.2,87.4 747.8,85.5 748.4,84.9 748.9,85.5 749.5,87.4 750.1,90.4 750.7,94.6 751.3,99.9 751.9,106.1 752.5,113.3 753.1,121.2 753.7,129.7 754.3,138.6 754.9,147.9 755.5,157.4" fill="none" stroke="#5dbb46" stroke-width="2.4" stroke-linejoin="round"/>
<polyline points="755.5,157.4 756.1,152.6 756.8,147.8 757.4,143.2 758.0,138.8 758.6,134.8 759.2,131.2 759.9,128.0 760.5,125.3 761.1,123.1 761.8,121.6 762.4,120.6 763.0,120.3 763.6,120.6 764.2,121.6 764.9,123.1 765.5,125.3 766.1,128.0 766.8,131.2 767.4,134.8 768.0,138.8 768.6,143.2 769.2,147.8 769.9,152.6 770.5,157.4" fill="none" stroke="#5470b5" stroke-width="2.4" stroke-linejoin="round"/>
<polyline points="771.6,157.4 772.2,150.1 772.9,142.9 773.5,136.0 774.1,129.5 774.8,123.4 775.4,117.9 776.0,113.1 776.7,109.0 777.3,105.8 777.9,103.4 778.6,102.0 779.2,101.5 779.8,102.0 780.5,103.4 781.1,105.8 781.7,109.0 782.4,113.1 783.0,117.9 783.6,123.4 784.3,129.5 784.9,136.0 785.5,142.9 786.2,150.1 786.8,157.4" fill="none" stroke="#ee3350" stroke-width="2.4" stroke-linejoin="round"/>
<polyline points="786.8,157.4 787.4,149.0 788.0,140.7 788.7,132.6 789.3,125.1 789.9,118.0 790.5,111.7 791.1,106.1 791.8,101.4 792.4,97.6 793.0,94.9 793.6,93.3 794.2,92.7 794.9,93.3 795.5,94.9 796.1,97.6 796.7,101.4 797.4,106.1 798.0,111.7 798.6,118.0 799.2,125.1 799.8,132.6 800.5,140.7 801.1,149.0 801.7,157.4" fill="none" stroke="#ee3350" stroke-width="2.4" stroke-linejoin="round"/>
<polyline points="801.7,157.4 802.3,148.1 802.9,138.9 803.5,130.1 804.1,121.7 804.6,113.9 805.2,106.9 805.8,100.8 806.4,95.6 807.0,91.4 807.6,88.4 808.2,86.6 808.8,86.0 809.3,86.6 809.9,88.4 810.5,91.4 811.1,95.6 811.7,100.8 812.3,106.9 812.9,113.9 813.4,121.7 814.0,130.1 814.6,138.9 815.2,148.1 815.8,157.4" fill="none" stroke="#5470b5" stroke-width="2.4" stroke-linejoin="round"/>
<polyline points="816.4,157.4 817.0,151.3 817.7,145.2 818.3,139.4 819.0,133.9 819.6,128.8 820.3,124.2 820.9,120.1 821.6,116.7 822.2,114.0 822.9,112.0 823.5,110.8 824.1,110.4 824.8,110.8 825.4,112.0 826.1,114.0 826.7,116.7 827.4,120.1 828.0,124.2 828.7,128.8 829.3,133.9 830.0,139.4 830.6,145.2 831.3,151.3 831.9,157.4" fill="none" stroke="#5dbb46" stroke-width="2.4" stroke-linejoin="round"/>
<polyline points="831.9,157.4 832.6,149.2 833.2,141.2 833.9,133.5 834.6,126.2 835.2,119.4 835.9,113.2 836.6,107.8 837.2,103.3 837.9,99.7 838.6,97.0 839.2,95.4 839.9,94.9 840.6,95.4 841.2,97.0 841.9,99.7 842.6,103.3 843.2,107.8 843.9,113.2 844.6,119.4 845.2,126.2 845.9,133.5 846.6,141.2 847.2,149.2 847.9,157.4" fill="none" stroke="#5dbb46" stroke-width="2.4" stroke-linejoin="round"/>
<polyline points="847.4,157.4 848.0,148.7 848.7,140.2 849.3,132.0 850.0,124.2 850.6,117.0 851.2,110.4 851.9,104.7 852.5,99.9 853.2,96.1 853.8,93.3 854.5,91.6 855.1,91.0 855.7,91.6 856.4,93.3 857.0,96.1 857.7,99.9 858.3,104.7 858.9,110.4 859.6,117.0 860.2,124.2 860.9,132.0 861.5,140.2 862.2,148.7 862.8,157.4" fill="none" stroke="#5dbb46" stroke-width="2.4" stroke-linejoin="round"/>
<polyline points="862.8,157.4 863.4,150.8 864.0,144.2 864.5,137.9 865.1,132.0 865.7,126.4 866.3,121.4 866.9,117.0 867.4,113.3 868.0,110.4 868.6,108.2 869.2,106.9 869.8,106.5 870.3,106.9 870.9,108.2 871.5,110.4 872.1,113.3 872.6,117.0 873.2,121.4 873.8,126.4 874.4,132.0 875.0,137.9 875.5,144.2 876.1,150.8 876.7,157.4" fill="none" stroke="#5470b5" stroke-width="2.4" stroke-linejoin="round"/>
<polyline points="628.7,246.1 629.3,242.6 629.8,239.2 630.4,235.9 631.0,232.8 631.5,229.8 632.1,227.2 632.7,224.9 633.2,223.0 633.8,221.4 634.4,220.3 634.9,219.6 635.5,219.4 636.1,219.6 636.6,220.3 637.2,221.4 637.8,223.0 638.3,224.9 638.9,227.2 639.5,229.8 640.0,232.8 640.6,235.9 641.2,239.2 641.7,242.6 642.3,246.1" fill="none" stroke="#5470b5" stroke-width="2.4" stroke-linejoin="round"/>
<polyline points="642.3,246.1 642.9,238.4 643.5,230.9 644.1,223.6 644.8,216.7 645.4,210.3 646.0,204.5 646.6,199.5 647.2,195.2 647.8,191.8 648.4,189.3 649.0,187.8 649.6,187.3 650.3,187.8 650.9,189.3 651.5,191.8 652.1,195.2 652.7,199.5 653.3,204.5 653.9,210.3 654.5,216.7 655.2,223.6 655.8,230.9 656.4,238.4 657.0,246.1" fill="none" stroke="#ee3350" stroke-width="2.4" stroke-linejoin="round"/>
<polyline points="660.7,246.1 661.3,236.4 661.9,226.8 662.5,217.6 663.1,208.8 663.7,200.7 664.3,193.4 664.9,187.0 665.5,181.6 666.1,177.3 666.7,174.1 667.3,172.2 668.0,171.6 668.6,172.2 669.2,174.1 669.8,177.3 670.4,181.6 671.0,187.0 671.6,193.4 672.2,200.7 672.8,208.8 673.4,217.6 674.0,226.8 674.6,236.4 675.2,246.1" fill="none" stroke="#5470b5" stroke-width="2.4" stroke-linejoin="round"/>
<polyline points="675.2,246.1 675.8,237.0 676.5,228.0 677.1,219.4 677.8,211.2 678.4,203.6 679.1,196.7 679.7,190.7 680.4,185.7 681.0,181.6 681.7,178.7 682.3,176.9 683.0,176.3 683.6,176.9 684.2,178.7 684.9,181.6 685.5,185.7 686.2,190.7 686.8,196.7 687.5,203.6 688.1,211.2 688.8,219.4 689.4,228.0 690.1,237.0 690.7,246.1" fill="none" stroke="#5dbb46" stroke-width="2.4" stroke-linejoin="round"/>
<polyline points="691.4,246.1 692.0,237.7 692.6,229.5 693.3,221.6 693.9,214.1 694.5,207.1 695.1,200.8 695.8,195.3 696.4,190.7 697.0,187.0 697.6,184.3 698.3,182.6 698.9,182.1 699.5,182.6 700.1,184.3 700.8,187.0 701.4,190.7 702.0,195.3 702.6,200.8 703.3,207.1 703.9,214.1 704.5,221.6 705.1,229.5 705.8,237.7 706.4,246.1" fill="none" stroke="#5dbb46" stroke-width="2.4" stroke-linejoin="round"/>
<polyline points="707.5,246.1 708.1,237.1 708.8,228.2 709.4,219.6 710.1,211.5 710.7,203.9 711.4,197.1 712.0,191.1 712.6,186.1 713.3,182.1 713.9,179.2 714.6,177.4 715.2,176.8 715.8,177.4 716.5,179.2 717.1,182.1 717.8,186.1 718.4,191.1 719.0,197.1 719.7,203.9 720.3,211.5 721.0,219.6 721.6,228.2 722.3,237.1 722.9,246.1" fill="none" stroke="#000" stroke-width="2.4" stroke-linejoin="round"/>
<polyline points="722.9,246.1 723.5,237.1 724.2,228.2 724.9,219.6 725.5,211.5 726.1,203.9 726.8,197.1 727.4,191.1 728.1,186.1 728.8,182.1 729.4,179.2 730.0,177.4 730.7,176.8 731.4,177.4 732.0,179.2 732.6,182.1 733.3,186.1 734.0,191.1 734.6,197.1 735.2,203.9 735.9,211.5 736.5,219.6 737.2,228.2 737.9,237.1 738.5,246.1" fill="none" stroke="#000" stroke-width="2.4" stroke-linejoin="round"/>
<polyline points="738.5,246.1 739.2,238.8 739.8,231.7 740.5,224.8 741.1,218.3 741.8,212.3 742.4,206.8 743.1,202.0 743.7,197.9 744.4,194.7 745.0,192.4 745.7,191.0 746.4,190.5 747.0,191.0 747.7,192.4 748.3,194.7 749.0,197.9 749.6,202.0 750.3,206.8 750.9,212.3 751.6,218.3 752.2,224.8 752.9,231.7 753.5,238.8 754.2,246.1" fill="none" stroke="#000" stroke-width="2.4" stroke-linejoin="round"/>
<polyline points="754.5,246.1 755.1,241.0 755.7,235.9 756.3,231.0 756.9,226.4 757.4,222.1 758.0,218.2 758.6,214.8 759.2,212.0 759.8,209.7 760.4,208.0 761.0,207.0 761.5,206.7 762.1,207.0 762.7,208.0 763.3,209.7 763.9,212.0 764.5,214.8 765.1,218.2 765.7,222.1 766.2,226.4 766.8,231.0 767.4,235.9 768.0,241.0 768.6,246.1" fill="none" stroke="#5470b5" stroke-width="2.4" stroke-linejoin="round"/>
<polyline points="770.2,246.1 770.8,238.5 771.5,231.0 772.1,223.8 772.7,217.0 773.4,210.6 774.0,204.9 774.6,199.8 775.3,195.6 775.9,192.2 776.5,189.8 777.2,188.3 777.8,187.8 778.4,188.3 779.1,189.8 779.7,192.2 780.3,195.6 781.0,199.8 781.6,204.9 782.2,210.6 782.9,217.0 783.5,223.8 784.1,231.0 784.8,238.5 785.4,246.1" fill="none" stroke="#ee3350" stroke-width="2.4" stroke-linejoin="round"/>
<polyline points="785.4,246.1 786.0,237.3 786.6,228.6 787.2,220.2 787.8,212.2 788.4,204.9 789.0,198.2 789.5,192.4 790.1,187.5 790.7,183.6 791.3,180.7 791.9,179.0 792.5,178.4 793.1,179.0 793.7,180.7 794.3,183.6 794.9,187.5 795.5,192.4 796.0,198.2 796.6,204.9 797.2,212.2 797.8,220.2 798.4,228.6 799.0,237.3 799.6,246.1" fill="none" stroke="#ee3350" stroke-width="2.4" stroke-linejoin="round"/>
<polyline points="800.7,246.1 801.3,236.4 801.9,226.9 802.5,217.8 803.1,209.1 803.7,201.1 804.3,193.8 804.9,187.4 805.5,182.0 806.1,177.7 806.7,174.6 807.3,172.7 808.0,172.1 808.6,172.7 809.2,174.6 809.8,177.7 810.4,182.0 811.0,187.4 811.6,193.8 812.2,201.1 812.8,209.1 813.4,217.8 814.0,226.9 814.6,236.4 815.2,246.1" fill="none" stroke="#5470b5" stroke-width="2.4" stroke-linejoin="round"/>
<polyline points="816.4,246.1 817.1,238.6 817.7,231.3 818.4,224.2 819.0,217.5 819.7,211.3 820.4,205.7 821.0,200.7 821.7,196.6 822.3,193.3 823.0,190.8 823.6,189.4 824.3,188.9 825.0,189.4 825.6,190.8 826.3,193.3 826.9,196.6 827.6,200.7 828.2,205.7 828.9,211.3 829.6,217.5 830.2,224.2 830.9,231.3 831.5,238.6 832.2,246.1" fill="none" stroke="#5dbb46" stroke-width="2.4" stroke-linejoin="round"/>
<polyline points="832.2,246.1 832.9,237.6 833.6,229.3 834.2,221.2 834.9,213.6 835.6,206.5 836.3,200.1 837.0,194.5 837.6,189.7 838.3,186.0 839.0,183.2 839.7,181.6 840.4,181.0 841.0,181.6 841.7,183.2 842.4,186.0 843.1,189.7 843.7,194.5 844.4,200.1 845.1,206.5 845.8,213.6 846.5,221.2 847.1,229.3 847.8,237.6 848.5,246.1" fill="none" stroke="#5dbb46" stroke-width="2.4" stroke-linejoin="round"/>
<polyline points="847.4,246.1 848.0,239.0 848.7,232.1 849.3,225.4 850.0,219.1 850.6,213.2 851.2,207.8 851.9,203.2 852.5,199.2 853.1,196.1 853.8,193.8 854.4,192.5 855.0,192.0 855.7,192.5 856.3,193.8 857.0,196.1 857.6,199.2 858.2,203.2 858.9,207.8 859.5,213.2 860.2,219.1 860.8,225.4 861.4,232.1 862.1,239.0 862.7,246.1" fill="none" stroke="#5dbb46" stroke-width="2.4" stroke-linejoin="round"/>
<polyline points="862.7,246.1 863.3,238.7 863.9,231.4 864.5,224.4 865.1,217.8 865.6,211.6 866.2,206.0 866.8,201.1 867.4,197.0 868.0,193.7 868.6,191.3 869.2,189.9 869.8,189.4 870.3,189.9 870.9,191.3 871.5,193.7 872.1,197.0 872.7,201.1 873.3,206.0 873.9,211.6 874.4,217.8 875.0,224.4 875.6,231.4 876.2,238.7 876.8,246.1" fill="none" stroke="#5470b5" stroke-width="2.4" stroke-linejoin="round"/>
<rect x="629.3" y="72.2" width="247.2" height="85.2" fill="none" stroke="#222" stroke-width="1.3"/>
<rect x="629.1" y="165.3" width="247" height="80.8" fill="none" stroke="#222" stroke-width="1.3"/>
<rect x="738.8" y="72.2" width="17.4" height="174.2" fill="none" stroke="#000" stroke-width="1.9" stroke-dasharray="2.8,2.4"/>
<text transform="translate(530.5,295.8) scale(1.08,1)" font-size="34" font-weight="bold" stroke="#000" stroke-width="1.1">c</text>
<line x1="632.0" y1="300.3" x2="632.0" y2="487.4" stroke="#000" stroke-width="2"/>
<line x1="631.0" y1="486.6" x2="918.5" y2="486.6" stroke="#000" stroke-width="2"/>
<line x1="627.3" y1="479.2" x2="632.0" y2="479.2" stroke="#000" stroke-width="1.8"/>
<text x="623.3" y="485.6" font-size="19" text-anchor="end" textLength="10.5" lengthAdjust="spacingAndGlyphs">0</text>
<line x1="627.3" y1="453.8" x2="632.0" y2="453.8" stroke="#000" stroke-width="1.8"/>
<text x="623.3" y="460.2" font-size="19" text-anchor="end" textLength="28.0" lengthAdjust="spacingAndGlyphs">0.5</text>
<line x1="627.3" y1="428.4" x2="632.0" y2="428.4" stroke="#000" stroke-width="1.8"/>
<text x="623.3" y="434.8" font-size="19" text-anchor="end" textLength="28.0" lengthAdjust="spacingAndGlyphs">1.0</text>
<line x1="627.3" y1="403.0" x2="632.0" y2="403.0" stroke="#000" stroke-width="1.8"/>
<text x="623.3" y="409.4" font-size="19" text-anchor="end" textLength="28.0" lengthAdjust="spacingAndGlyphs">1.5</text>
<line x1="627.3" y1="377.5" x2="632.0" y2="377.5" stroke="#000" stroke-width="1.8"/>
<text x="623.3" y="383.9" font-size="19" text-anchor="end" textLength="28.0" lengthAdjust="spacingAndGlyphs">2.0</text>
<line x1="627.3" y1="352.1" x2="632.0" y2="352.1" stroke="#000" stroke-width="1.8"/>
<text x="623.3" y="358.5" font-size="19" text-anchor="end" textLength="28.0" lengthAdjust="spacingAndGlyphs">2.5</text>
<line x1="627.3" y1="326.7" x2="632.0" y2="326.7" stroke="#000" stroke-width="1.8"/>
<text x="623.3" y="333.1" font-size="19" text-anchor="end" textLength="28.0" lengthAdjust="spacingAndGlyphs">3.0</text>
<line x1="627.3" y1="301.3" x2="632.0" y2="301.3" stroke="#000" stroke-width="1.8"/>
<text x="623.3" y="307.7" font-size="19" text-anchor="end" textLength="28.0" lengthAdjust="spacingAndGlyphs">3.5</text>
<line x1="644.4" y1="486.6" x2="644.4" y2="491.2" stroke="#000" stroke-width="1.8"/>
<text x="644.4" y="509.2" font-size="19.8" text-anchor="middle" textLength="10.8" lengthAdjust="spacingAndGlyphs">0</text>
<line x1="712.9" y1="486.6" x2="712.9" y2="491.2" stroke="#000" stroke-width="1.8"/>
<text x="712.9" y="509.2" font-size="19.8" text-anchor="middle" textLength="29.0" lengthAdjust="spacingAndGlyphs">1.0</text>
<line x1="781.4" y1="486.6" x2="781.4" y2="491.2" stroke="#000" stroke-width="1.8"/>
<text x="781.4" y="509.2" font-size="19.8" text-anchor="middle" textLength="29.0" lengthAdjust="spacingAndGlyphs">2.0</text>
<line x1="849.9" y1="486.6" x2="849.9" y2="491.2" stroke="#000" stroke-width="1.8"/>
<text x="849.9" y="509.2" font-size="19.8" text-anchor="middle" textLength="29.0" lengthAdjust="spacingAndGlyphs">3.0</text>
<line x1="918.4" y1="486.6" x2="918.4" y2="491.2" stroke="#000" stroke-width="1.8"/>
<text x="918.4" y="509.2" font-size="19.8" text-anchor="middle" textLength="29.0" lengthAdjust="spacingAndGlyphs">4.0</text>
<text x="699.2" y="534.5" font-size="20.3">log<tspan font-size="14.5" dy="6">10</tspan><tspan dy="-6">(Cell rank)</tspan></text>
<text transform="translate(572.6,464.7) rotate(-90)" font-size="20.3">log<tspan font-size="14.5" dy="6">10</tspan><tspan dy="-6">(UMI count)</tspan></text>
<text x="773.8" y="316.4" font-size="20" textLength="99.6" lengthAdjust="spacingAndGlyphs">3,208 cells</text>
<text x="642.8" y="376.1" font-size="20" textLength="77.9" lengthAdjust="spacingAndGlyphs">64 UMIs</text>
<circle cx="644.4" cy="330.1" r="1.2" fill="#2e77b4"/>
<circle cx="665.0" cy="335.4" r="1.2" fill="#2e77b4"/>
<circle cx="677.1" cy="335.9" r="1.2" fill="#2e77b4"/>
<circle cx="685.6" cy="337.1" r="1.2" fill="#2e77b4"/>
<circle cx="692.3" cy="337.4" r="1.2" fill="#2e77b4"/>
<circle cx="697.7" cy="337.5" r="1.2" fill="#2e77b4"/>
<circle cx="702.3" cy="337.7" r="1.2" fill="#2e77b4"/>
<circle cx="706.3" cy="338.4" r="1.2" fill="#2e77b4"/>
<circle cx="709.8" cy="339.1" r="1.2" fill="#2e77b4"/>
<circle cx="712.9" cy="339.8" r="1.2" fill="#2e77b4"/>
<circle cx="715.7" cy="340.3" r="1.2" fill="#2e77b4"/>
<circle cx="718.3" cy="340.9" r="1.2" fill="#2e77b4"/>
<circle cx="720.7" cy="341.5" r="1.2" fill="#2e77b4"/>
<circle cx="722.9" cy="342.1" r="1.2" fill="#2e77b4"/>
<circle cx="725.0" cy="342.6" r="1.2" fill="#2e77b4"/>
<circle cx="726.9" cy="343.0" r="1.2" fill="#2e77b4"/>
<circle cx="728.7" cy="343.4" r="1.2" fill="#2e77b4"/>
<circle cx="730.4" cy="343.6" r="1.2" fill="#2e77b4"/>
<circle cx="732.0" cy="343.8" r="1.2" fill="#2e77b4"/>
<circle cx="733.5" cy="343.9" r="1.2" fill="#2e77b4"/>
<circle cx="735.0" cy="344.0" r="1.2" fill="#2e77b4"/>
<circle cx="736.4" cy="344.2" r="1.2" fill="#2e77b4"/>
<circle cx="737.7" cy="344.3" r="1.2" fill="#2e77b4"/>
<circle cx="738.9" cy="344.4" r="1.2" fill="#2e77b4"/>
<circle cx="740.2" cy="344.6" r="1.2" fill="#2e77b4"/>
<polyline points="740.2,344.6 740.8,344.6 741.5,344.7 742.2,344.8 742.9,344.8 743.6,344.8 744.3,344.9 745.0,344.9 745.6,345.0 746.3,345.0 747.0,345.0 747.7,345.1 748.4,345.1 749.1,345.1 749.7,345.2 750.4,345.2 751.1,345.2 751.8,345.3 752.5,345.3 753.2,345.3 753.9,345.4 754.5,345.4 755.2,345.4 755.9,345.5 756.6,345.5 757.3,345.6 758.0,345.7 758.7,345.8 759.3,345.9 760.0,346.0 760.7,346.1 761.4,346.2 762.1,346.3 762.8,346.4 763.4,346.5 764.1,346.7 764.8,346.8 765.5,346.9 766.2,347.0 766.9,347.1 767.6,347.2 768.2,347.3 768.9,347.4 769.6,347.5 770.3,347.6 771.0,347.7 771.7,347.9 772.4,348.0 773.0,348.1 773.7,348.3 774.4,348.4 775.1,348.5 775.8,348.7 776.5,348.8 777.1,348.9 777.8,349.1 778.5,349.2 779.2,349.3 779.9,349.5 780.6,349.6 781.3,349.7 781.9,349.9 782.6,350.0 783.3,350.1 784.0,350.3 784.7,350.4 785.4,350.6 786.1,350.7 786.7,350.9 787.4,351.1 788.1,351.2 788.8,351.4 789.5,351.6 790.2,351.7 790.8,351.9 791.5,352.1 792.2,352.3 792.9,352.4 793.6,352.6 794.3,352.8 795.0,352.9 795.6,353.1 796.3,353.3 797.0,353.4 797.7,353.6 798.4,353.8 799.1,353.9 799.8,354.1 800.4,354.3 801.1,354.4 801.8,354.6 802.5,354.7 803.2,354.9 803.9,355.0 804.5,355.2 805.2,355.3 805.9,355.5 806.6,355.6 807.3,355.8 808.0,356.0 808.7,356.1 809.3,356.3 810.0,356.4 810.7,356.6 811.4,356.7 812.1,356.9 812.8,357.0 813.5,357.2 814.1,357.3 814.8,357.5 815.5,357.7 816.2,357.8 816.9,358.0 817.6,358.1 818.2,358.3 818.9,358.4 819.6,358.6 820.3,358.7 821.0,358.9 821.7,359.0 822.4,359.2 823.0,359.4 823.7,359.5 824.4,359.7 825.1,359.8 825.8,360.0 826.5,360.1 827.2,360.3 827.8,360.4 828.5,360.6 829.2,360.8 829.9,361.0 830.6,361.1 831.3,361.3 831.9,361.5 832.6,361.7 833.3,361.8 834.0,362.0 834.7,362.2 835.4,362.4 836.1,362.5 836.7,362.7 837.4,362.9 838.1,363.1 838.8,363.2 839.5,363.4 840.2,363.6 840.9,363.8 841.5,363.9 842.2,364.1 842.9,364.3 843.6,364.5 844.3,364.7 845.0,364.9 845.6,365.1 846.3,365.3 847.0,365.5 847.7,365.7 848.4,365.9 849.1,366.2 849.8,366.4 850.4,366.6 851.1,366.8 851.8,367.0 852.5,367.2 853.2,367.4 853.9,367.6 854.6,367.8 855.2,368.0 855.9,368.2 856.6,368.4 857.3,368.7 858.0,369.0 858.7,369.3 859.3,369.5 860.0,369.8 860.7,370.1 861.4,370.4 862.1,370.6 862.8,370.9 863.5,371.2 864.1,371.5 864.8,371.7 865.5,372.0 866.2,372.3 866.9,372.6 867.6,372.8 868.3,373.1 868.9,373.4 869.6,373.7 870.3,374.0 871.0,374.4 871.7,374.8 872.4,375.2 873.0,375.6 873.7,376.0 874.4,376.5 875.1,376.9 875.8,377.3 876.5,377.7 877.2,378.1 877.8,378.8 878.5,379.6 879.2,380.3 879.9,381.1 880.6,381.8 881.3,382.6 882.0,383.3 882.6,384.1 883.3,384.8 884.0,385.6 884.7,386.4 885.4,387.4 886.1,388.4 886.7,389.4 887.4,390.4 887.6,390.7 887.7,390.9 887.8,391.1 888.0,391.3 888.1,391.5 888.3,391.7 888.4,391.9 888.5,392.1 888.7,392.3 888.8,392.7 888.9,393.3 889.1,393.9 889.2,394.4 889.4,395.0 889.5,395.5 889.6,396.1 889.8,396.7 889.9,397.2 890.0,397.8 890.2,398.4 890.3,398.9 890.5,399.5 890.6,400.0 890.7,400.6 890.9,402.6 891.0,406.2 891.1,409.8 891.3,413.4 891.4,417.0 891.5,421.1 891.7,426.1 891.8,431.1" fill="none" stroke="#2e77b4" stroke-width="2.5" stroke-linejoin="round"/>
<circle cx="892.3" cy="436.5" r="1.15" fill="#2e77b4"/>
<circle cx="892.5" cy="440.5" r="1.15" fill="#2e77b4"/>
<circle cx="892.7" cy="444.5" r="1.15" fill="#2e77b4"/>
<circle cx="892.8" cy="448.0" r="1.15" fill="#2e77b4"/>
<circle cx="893.2" cy="455.4" r="1.15" fill="#2e77b4"/>
<circle cx="893.5" cy="463.4" r="1.15" fill="#2e77b4"/>
<line x1="892.4" y1="479.3" x2="904.7" y2="479.3" stroke="#2e77b4" stroke-width="2.2"/>
<line x1="884.8" y1="304.3" x2="884.8" y2="486.0" stroke="#000" stroke-width="1.6" stroke-dasharray="7.3,7.3"/>
<line x1="632.0" y1="386.9" x2="918.0" y2="386.9" stroke="#ee2020" stroke-width="1.8" stroke-dasharray="7.3,7.3" stroke-dashoffset="-1"/>
<text transform="translate(530.5,583.8) scale(1.15,1)" font-size="32" font-weight="bold" stroke="#000" stroke-width="1.1">d</text>
<line x1="631.5" y1="583.0" x2="631.5" y2="834.2" stroke="#000" stroke-width="2"/>
<line x1="630.5" y1="833.3" x2="888.5" y2="833.3" stroke="#000" stroke-width="2"/>
<line x1="628.0" y1="822.2" x2="631.5" y2="822.2" stroke="#000" stroke-width="1.8"/>
<text x="620.7" y="829.2" font-size="20" text-anchor="end" textLength="10.8" lengthAdjust="spacingAndGlyphs">0</text>
<line x1="628.0" y1="791.4" x2="631.5" y2="791.4" stroke="#000" stroke-width="1.8"/>
<text x="620.7" y="798.4" font-size="20" text-anchor="end" textLength="22.0" lengthAdjust="spacingAndGlyphs">50</text>
<line x1="628.0" y1="760.5" x2="631.5" y2="760.5" stroke="#000" stroke-width="1.8"/>
<text x="620.7" y="767.5" font-size="20" text-anchor="end" textLength="33.0" lengthAdjust="spacingAndGlyphs">100</text>
<line x1="628.0" y1="729.7" x2="631.5" y2="729.7" stroke="#000" stroke-width="1.8"/>
<text x="620.7" y="736.7" font-size="20" text-anchor="end" textLength="33.0" lengthAdjust="spacingAndGlyphs">150</text>
<line x1="628.0" y1="698.8" x2="631.5" y2="698.8" stroke="#000" stroke-width="1.8"/>
<text x="620.7" y="705.8" font-size="20" text-anchor="end" textLength="33.0" lengthAdjust="spacingAndGlyphs">200</text>
<line x1="628.0" y1="668.0" x2="631.5" y2="668.0" stroke="#000" stroke-width="1.8"/>
<text x="620.7" y="675.0" font-size="20" text-anchor="end" textLength="33.0" lengthAdjust="spacingAndGlyphs">250</text>
<line x1="628.0" y1="637.2" x2="631.5" y2="637.2" stroke="#000" stroke-width="1.8"/>
<text x="620.7" y="644.2" font-size="20" text-anchor="end" textLength="33.0" lengthAdjust="spacingAndGlyphs">300</text>
<line x1="628.0" y1="606.3" x2="631.5" y2="606.3" stroke="#000" stroke-width="1.8"/>
<text x="620.7" y="613.3" font-size="20" text-anchor="end" textLength="33.0" lengthAdjust="spacingAndGlyphs">350</text>
<line x1="642.8" y1="833.3" x2="642.8" y2="836.9" stroke="#000" stroke-width="1.8"/>
<text transform="translate(647.8,850.0) rotate(-45)" font-size="20.5" text-anchor="end" textLength="11.0" lengthAdjust="spacingAndGlyphs">0</text>
<line x1="675.7" y1="833.3" x2="675.7" y2="836.9" stroke="#000" stroke-width="1.8"/>
<text transform="translate(680.7,850.0) rotate(-45)" font-size="20.5" text-anchor="end" textLength="22.1" lengthAdjust="spacingAndGlyphs">50</text>
<line x1="708.6" y1="833.3" x2="708.6" y2="836.9" stroke="#000" stroke-width="1.8"/>
<text transform="translate(713.6,850.0) rotate(-45)" font-size="20.5" text-anchor="end" textLength="33.6" lengthAdjust="spacingAndGlyphs">100</text>
<line x1="741.4" y1="833.3" x2="741.4" y2="836.9" stroke="#000" stroke-width="1.8"/>
<text transform="translate(746.4,850.0) rotate(-45)" font-size="20.5" text-anchor="end" textLength="33.6" lengthAdjust="spacingAndGlyphs">150</text>
<line x1="774.3" y1="833.3" x2="774.3" y2="836.9" stroke="#000" stroke-width="1.8"/>
<text transform="translate(779.3,850.0) rotate(-45)" font-size="20.5" text-anchor="end" textLength="33.6" lengthAdjust="spacingAndGlyphs">200</text>
<line x1="807.2" y1="833.3" x2="807.2" y2="836.9" stroke="#000" stroke-width="1.8"/>
<text transform="translate(812.2,850.0) rotate(-45)" font-size="20.5" text-anchor="end" textLength="33.6" lengthAdjust="spacingAndGlyphs">250</text>
<line x1="840.1" y1="833.3" x2="840.1" y2="836.9" stroke="#000" stroke-width="1.8"/>
<text transform="translate(845.1,850.0) rotate(-45)" font-size="20.5" text-anchor="end" textLength="33.6" lengthAdjust="spacingAndGlyphs">300</text>
<line x1="873.0" y1="833.3" x2="873.0" y2="836.9" stroke="#000" stroke-width="1.8"/>
<text transform="translate(878.0,850.0) rotate(-45)" font-size="20.5" text-anchor="end" textLength="33.6" lengthAdjust="spacingAndGlyphs">350</text>
<text x="649.8" y="898.8" font-size="20" textLength="235.3" lengthAdjust="spacingAndGlyphs">HeLa <tspan font-style="italic">MT-ND4</tspan> UMI count</text>
<text transform="translate(570.8,832.9) rotate(-90)" font-size="20" textLength="233.5" lengthAdjust="spacingAndGlyphs">293T <tspan font-style="italic">MT-ND4</tspan> UMI count</text>
<circle cx="643.0" cy="592.8" r="1.3" fill="#0000ff"/>
<circle cx="643.3" cy="642.7" r="1.3" fill="#0000ff"/>
<circle cx="643.2" cy="653.2" r="1.3" fill="#0000ff"/>
<circle cx="643.4" cy="666.8" r="1.3" fill="#0000ff"/>
<circle cx="643.4" cy="679.1" r="1.3" fill="#0000ff"/>
<circle cx="642.9" cy="682.8" r="1.3" fill="#0000ff"/>
<circle cx="642.8" cy="685.3" r="1.3" fill="#0000ff"/>
<circle cx="643.6" cy="689.0" r="1.3" fill="#0000ff"/>
<circle cx="643.1" cy="692.1" r="1.3" fill="#0000ff"/>
<circle cx="643.0" cy="696.4" r="1.3" fill="#0000ff"/>
<circle cx="643.8" cy="701.3" r="1.3" fill="#0000ff"/>
<circle cx="643.3" cy="703.2" r="1.3" fill="#0000ff"/>
<circle cx="643.6" cy="705.0" r="1.3" fill="#0000ff"/>
<circle cx="643.3" cy="706.9" r="1.3" fill="#0000ff"/>
<circle cx="643.4" cy="709.3" r="1.3" fill="#0000ff"/>
<circle cx="642.9" cy="711.2" r="1.3" fill="#0000ff"/>
<circle cx="643.4" cy="713.0" r="1.3" fill="#0000ff"/>
<circle cx="643.1" cy="721.8" r="1.3" fill="#0000ff"/>
<circle cx="643.3" cy="730.8" r="1.3" fill="#0000ff"/>
<circle cx="643.4" cy="778.8" r="1.3" fill="#0000ff"/>
<circle cx="642.9" cy="741.4" r="1.3" fill="#0000ff"/>
<circle cx="643.5" cy="781.1" r="1.3" fill="#0000ff"/>
<circle cx="643.3" cy="749.8" r="1.3" fill="#0000ff"/>
<circle cx="643.3" cy="721.0" r="1.3" fill="#0000ff"/>
<circle cx="643.0" cy="718.0" r="1.3" fill="#0000ff"/>
<circle cx="643.0" cy="726.5" r="1.3" fill="#0000ff"/>
<circle cx="643.5" cy="717.0" r="1.3" fill="#0000ff"/>
<circle cx="642.7" cy="776.4" r="1.3" fill="#0000ff"/>
<circle cx="643.6" cy="768.0" r="1.3" fill="#0000ff"/>
<circle cx="643.2" cy="752.4" r="1.3" fill="#0000ff"/>
<circle cx="643.1" cy="762.0" r="1.3" fill="#0000ff"/>
<circle cx="642.9" cy="756.0" r="1.3" fill="#0000ff"/>
<circle cx="643.2" cy="741.8" r="1.3" fill="#0000ff"/>
<circle cx="643.3" cy="719.2" r="1.3" fill="#0000ff"/>
<circle cx="643.4" cy="717.4" r="1.3" fill="#0000ff"/>
<circle cx="643.3" cy="713.0" r="1.3" fill="#0000ff"/>
<circle cx="643.5" cy="771.8" r="1.3" fill="#0000ff"/>
<circle cx="643.5" cy="714.9" r="1.3" fill="#0000ff"/>
<circle cx="643.3" cy="743.0" r="1.3" fill="#0000ff"/>
<circle cx="643.4" cy="768.4" r="1.3" fill="#0000ff"/>
<circle cx="642.9" cy="742.7" r="1.3" fill="#0000ff"/>
<circle cx="643.4" cy="778.8" r="1.3" fill="#0000ff"/>
<circle cx="642.7" cy="713.1" r="1.3" fill="#0000ff"/>
<circle cx="643.0" cy="726.6" r="1.3" fill="#0000ff"/>
<circle cx="642.9" cy="772.6" r="1.3" fill="#0000ff"/>
<circle cx="643.5" cy="728.8" r="1.3" fill="#0000ff"/>
<circle cx="643.2" cy="780.2" r="1.3" fill="#0000ff"/>
<circle cx="643.3" cy="780.2" r="1.3" fill="#0000ff"/>
<circle cx="643.5" cy="759.9" r="1.3" fill="#0000ff"/>
<circle cx="643.1" cy="713.8" r="1.3" fill="#0000ff"/>
<circle cx="642.9" cy="712.5" r="1.3" fill="#0000ff"/>
<circle cx="643.2" cy="777.9" r="1.3" fill="#0000ff"/>
<circle cx="642.8" cy="781.1" r="1.3" fill="#0000ff"/>
<circle cx="643.2" cy="754.4" r="1.3" fill="#0000ff"/>
<circle cx="642.6" cy="772.3" r="1.3" fill="#0000ff"/>
<circle cx="642.9" cy="721.8" r="1.3" fill="#0000ff"/>
<circle cx="643.5" cy="715.3" r="1.3" fill="#0000ff"/>
<circle cx="643.1" cy="756.5" r="1.3" fill="#0000ff"/>
<circle cx="643.2" cy="746.5" r="1.3" fill="#0000ff"/>
<circle cx="643.2" cy="741.1" r="1.3" fill="#0000ff"/>
<circle cx="643.5" cy="739.4" r="1.3" fill="#0000ff"/>
<circle cx="643.0" cy="747.4" r="1.3" fill="#0000ff"/>
<circle cx="642.8" cy="732.2" r="1.3" fill="#0000ff"/>
<circle cx="643.6" cy="762.0" r="1.3" fill="#0000ff"/>
<circle cx="643.1" cy="746.4" r="1.3" fill="#0000ff"/>
<circle cx="643.0" cy="782.5" r="1.3" fill="#0000ff"/>
<circle cx="642.6" cy="742.2" r="1.3" fill="#0000ff"/>
<circle cx="643.2" cy="739.7" r="1.3" fill="#0000ff"/>
<circle cx="643.2" cy="779.1" r="1.3" fill="#0000ff"/>
<circle cx="643.3" cy="750.3" r="1.3" fill="#0000ff"/>
<circle cx="643.3" cy="758.3" r="1.3" fill="#0000ff"/>
<circle cx="642.6" cy="731.0" r="1.3" fill="#0000ff"/>
<circle cx="643.3" cy="779.0" r="1.3" fill="#0000ff"/>
<circle cx="642.9" cy="715.0" r="1.3" fill="#0000ff"/>
<circle cx="643.2" cy="751.0" r="1.3" fill="#0000ff"/>
<circle cx="643.0" cy="760.6" r="1.3" fill="#0000ff"/>
<circle cx="643.0" cy="761.2" r="1.3" fill="#0000ff"/>
<circle cx="642.9" cy="741.1" r="1.3" fill="#0000ff"/>
<circle cx="643.4" cy="756.6" r="1.3" fill="#0000ff"/>
<circle cx="643.2" cy="781.4" r="1.3" fill="#0000ff"/>
<circle cx="642.9" cy="731.2" r="1.3" fill="#0000ff"/>
<circle cx="643.4" cy="767.6" r="1.3" fill="#0000ff"/>
<circle cx="642.8" cy="766.4" r="1.3" fill="#0000ff"/>
<circle cx="643.3" cy="752.5" r="1.3" fill="#0000ff"/>
<circle cx="642.9" cy="776.1" r="1.3" fill="#0000ff"/>
<circle cx="643.4" cy="759.7" r="1.3" fill="#0000ff"/>
<circle cx="643.4" cy="752.2" r="1.3" fill="#0000ff"/>
<circle cx="642.9" cy="771.3" r="1.3" fill="#0000ff"/>
<circle cx="643.5" cy="737.2" r="1.3" fill="#0000ff"/>
<circle cx="642.8" cy="751.3" r="1.3" fill="#0000ff"/>
<circle cx="643.1" cy="774.8" r="1.3" fill="#0000ff"/>
<circle cx="643.4" cy="769.8" r="1.3" fill="#0000ff"/>
<circle cx="642.8" cy="723.9" r="1.3" fill="#0000ff"/>
<circle cx="643.4" cy="763.6" r="1.3" fill="#0000ff"/>
<circle cx="643.4" cy="737.8" r="1.3" fill="#0000ff"/>
<circle cx="642.7" cy="758.9" r="1.3" fill="#0000ff"/>
<circle cx="643.4" cy="762.6" r="1.3" fill="#0000ff"/>
<circle cx="642.9" cy="764.1" r="1.3" fill="#0000ff"/>
<circle cx="643.0" cy="753.8" r="1.3" fill="#0000ff"/>
<circle cx="643.5" cy="754.3" r="1.3" fill="#0000ff"/>
<circle cx="642.6" cy="772.3" r="1.3" fill="#0000ff"/>
<circle cx="643.5" cy="716.4" r="1.3" fill="#0000ff"/>
<circle cx="643.0" cy="713.3" r="1.3" fill="#0000ff"/>
<circle cx="643.5" cy="715.9" r="1.3" fill="#0000ff"/>
<circle cx="643.3" cy="767.6" r="1.3" fill="#0000ff"/>
<circle cx="643.3" cy="724.0" r="1.3" fill="#0000ff"/>
<circle cx="642.9" cy="746.5" r="1.3" fill="#0000ff"/>
<circle cx="642.8" cy="759.1" r="1.3" fill="#0000ff"/>
<circle cx="643.2" cy="778.5" r="1.3" fill="#0000ff"/>
<circle cx="643.4" cy="763.0" r="1.3" fill="#0000ff"/>
<circle cx="643.5" cy="780.1" r="1.3" fill="#0000ff"/>
<circle cx="643.5" cy="734.1" r="1.3" fill="#0000ff"/>
<circle cx="643.5" cy="719.7" r="1.3" fill="#0000ff"/>
<circle cx="642.6" cy="742.4" r="1.3" fill="#0000ff"/>
<circle cx="642.8" cy="730.5" r="1.3" fill="#0000ff"/>
<circle cx="643.3" cy="762.1" r="1.3" fill="#0000ff"/>
<circle cx="643.0" cy="746.1" r="1.3" fill="#0000ff"/>
<circle cx="643.2" cy="716.7" r="1.3" fill="#0000ff"/>
<circle cx="642.9" cy="759.1" r="1.3" fill="#0000ff"/>
<circle cx="643.1" cy="722.2" r="1.3" fill="#0000ff"/>
<circle cx="642.9" cy="727.8" r="1.3" fill="#0000ff"/>
<circle cx="643.1" cy="769.3" r="1.3" fill="#0000ff"/>
<circle cx="642.8" cy="725.4" r="1.3" fill="#0000ff"/>
<circle cx="643.5" cy="727.2" r="1.3" fill="#0000ff"/>
<circle cx="643.4" cy="726.2" r="1.3" fill="#0000ff"/>
<circle cx="643.2" cy="782.8" r="1.3" fill="#0000ff"/>
<circle cx="642.7" cy="722.2" r="1.3" fill="#0000ff"/>
<circle cx="642.9" cy="764.1" r="1.3" fill="#0000ff"/>
<circle cx="643.0" cy="745.9" r="1.3" fill="#0000ff"/>
<circle cx="643.4" cy="749.8" r="1.3" fill="#0000ff"/>
<circle cx="642.7" cy="783.2" r="1.3" fill="#0000ff"/>
<circle cx="642.7" cy="774.3" r="1.3" fill="#0000ff"/>
<circle cx="643.6" cy="778.5" r="1.3" fill="#0000ff"/>
<circle cx="642.7" cy="722.7" r="1.3" fill="#0000ff"/>
<circle cx="642.9" cy="747.7" r="1.3" fill="#0000ff"/>
<circle cx="642.9" cy="761.0" r="1.3" fill="#0000ff"/>
<circle cx="643.2" cy="737.5" r="1.3" fill="#0000ff"/>
<circle cx="642.8" cy="757.7" r="1.3" fill="#0000ff"/>
<circle cx="642.7" cy="760.0" r="1.3" fill="#0000ff"/>
<circle cx="643.3" cy="743.9" r="1.3" fill="#0000ff"/>
<circle cx="642.7" cy="756.4" r="1.3" fill="#0000ff"/>
<circle cx="643.0" cy="770.7" r="1.3" fill="#0000ff"/>
<circle cx="643.4" cy="740.5" r="1.3" fill="#0000ff"/>
<circle cx="643.4" cy="756.4" r="1.3" fill="#0000ff"/>
<circle cx="643.0" cy="739.2" r="1.3" fill="#0000ff"/>
<circle cx="643.1" cy="756.9" r="1.3" fill="#0000ff"/>
<circle cx="643.0" cy="733.5" r="1.3" fill="#0000ff"/>
<circle cx="643.1" cy="734.1" r="1.3" fill="#0000ff"/>
<circle cx="643.1" cy="766.0" r="1.3" fill="#0000ff"/>
<circle cx="642.7" cy="734.0" r="1.3" fill="#0000ff"/>
<circle cx="643.0" cy="753.2" r="1.3" fill="#0000ff"/>
<circle cx="643.5" cy="720.9" r="1.3" fill="#0000ff"/>
<circle cx="643.5" cy="756.8" r="1.3" fill="#0000ff"/>
<circle cx="642.9" cy="727.2" r="1.3" fill="#0000ff"/>
<circle cx="642.7" cy="750.4" r="1.3" fill="#0000ff"/>
<circle cx="643.3" cy="725.7" r="1.3" fill="#0000ff"/>
<circle cx="643.4" cy="720.4" r="1.3" fill="#0000ff"/>
<circle cx="643.3" cy="736.0" r="1.3" fill="#0000ff"/>
<circle cx="642.7" cy="743.3" r="1.3" fill="#0000ff"/>
<circle cx="642.6" cy="741.7" r="1.3" fill="#0000ff"/>
<circle cx="643.4" cy="773.2" r="1.3" fill="#0000ff"/>
<circle cx="642.7" cy="780.2" r="1.3" fill="#0000ff"/>
<circle cx="643.5" cy="776.3" r="1.3" fill="#0000ff"/>
<circle cx="642.6" cy="770.6" r="1.3" fill="#0000ff"/>
<circle cx="642.7" cy="723.6" r="1.3" fill="#0000ff"/>
<circle cx="643.3" cy="723.5" r="1.3" fill="#0000ff"/>
<circle cx="643.5" cy="724.0" r="1.3" fill="#0000ff"/>
<circle cx="644.9" cy="723.5" r="1.3" fill="#0000ff"/>
<circle cx="645.2" cy="735.2" r="1.3" fill="#0000ff"/>
<circle cx="644.2" cy="743.2" r="1.3" fill="#0000ff"/>
<circle cx="645.1" cy="753.1" r="1.3" fill="#0000ff"/>
<circle cx="644.8" cy="763.0" r="1.3" fill="#0000ff"/>
<circle cx="645.1" cy="771.6" r="1.3" fill="#0000ff"/>
<circle cx="644.3" cy="779.0" r="1.3" fill="#0000ff"/>
<circle cx="645.1" cy="781.5" r="1.3" fill="#0000ff"/>
<circle cx="646.1" cy="735.2" r="1.3" fill="#0000ff"/>
<circle cx="646.1" cy="764.2" r="1.3" fill="#0000ff"/>
<circle cx="646.1" cy="771.6" r="1.3" fill="#0000ff"/>
<circle cx="646.1" cy="781.5" r="1.3" fill="#0000ff"/>
<circle cx="655.5" cy="758.0" r="1.5" fill="#0000ff"/>
<circle cx="656.7" cy="783.4" r="1.5" fill="#0000ff"/>
<circle cx="666.3" cy="720.7" r="1.6" fill="#ff8c1a"/>
<circle cx="677.4" cy="737.3" r="1.6" fill="#ff8c1a"/>
<circle cx="677.9" cy="749.4" r="1.6" fill="#ff8c1a"/>
<circle cx="707.4" cy="756.9" r="1.6" fill="#ff8c1a"/>
<circle cx="719.4" cy="767.5" r="1.6" fill="#ff8c1a"/>
<circle cx="732.3" cy="736.0" r="1.6" fill="#ff8c1a"/>
<circle cx="672.9" cy="808.1" r="1.4" fill="#ff0000"/>
<circle cx="677.9" cy="812.4" r="1.4" fill="#ff0000"/>
<circle cx="726.5" cy="811.4" r="1.4" fill="#ff0000"/>
<circle cx="736.8" cy="818.9" r="1.4" fill="#ff0000"/>
<circle cx="757.5" cy="819.4" r="1.4" fill="#ff0000"/>
<circle cx="704.0" cy="820.5" r="1.4" fill="#ff0000"/>
<circle cx="690.0" cy="821.0" r="1.4" fill="#ff0000"/>
<circle cx="725.0" cy="820.8" r="1.4" fill="#ff0000"/>
<rect x="683.5" y="821.8" width="106" height="3.2" fill="#ff0000"/>
<circle cx="782.1" cy="821.7" r="1.2" fill="#ff0000"/>
<circle cx="718.0" cy="823.5" r="1.2" fill="#ff0000"/>
<circle cx="770.9" cy="822.3" r="1.2" fill="#ff0000"/>
<circle cx="702.9" cy="822.4" r="1.2" fill="#ff0000"/>
<circle cx="748.7" cy="824.1" r="1.2" fill="#ff0000"/>
<circle cx="725.3" cy="822.8" r="1.2" fill="#ff0000"/>
<circle cx="725.6" cy="822.7" r="1.2" fill="#ff0000"/>
<circle cx="727.9" cy="821.8" r="1.2" fill="#ff0000"/>
<circle cx="736.5" cy="824.9" r="1.2" fill="#ff0000"/>
<circle cx="727.3" cy="824.1" r="1.2" fill="#ff0000"/>
<circle cx="700.9" cy="823.9" r="1.2" fill="#ff0000"/>
<circle cx="763.4" cy="823.9" r="1.2" fill="#ff0000"/>
<circle cx="738.3" cy="823.2" r="1.2" fill="#ff0000"/>
<circle cx="751.5" cy="824.6" r="1.2" fill="#ff0000"/>
<circle cx="699.7" cy="821.8" r="1.2" fill="#ff0000"/>
<circle cx="762.6" cy="824.7" r="1.2" fill="#ff0000"/>
<circle cx="738.3" cy="823.1" r="1.2" fill="#ff0000"/>
<circle cx="759.5" cy="822.2" r="1.2" fill="#ff0000"/>
<circle cx="712.1" cy="822.2" r="1.2" fill="#ff0000"/>
<circle cx="745.5" cy="822.6" r="1.2" fill="#ff0000"/>
<circle cx="708.4" cy="823.9" r="1.2" fill="#ff0000"/>
<circle cx="784.1" cy="822.5" r="1.2" fill="#ff0000"/>
<circle cx="758.1" cy="822.9" r="1.2" fill="#ff0000"/>
<circle cx="773.6" cy="823.5" r="1.2" fill="#ff0000"/>
<circle cx="712.1" cy="822.3" r="1.2" fill="#ff0000"/>
<circle cx="686.4" cy="823.2" r="1.2" fill="#ff0000"/>
<circle cx="724.2" cy="822.1" r="1.2" fill="#ff0000"/>
<circle cx="721.8" cy="822.6" r="1.2" fill="#ff0000"/>
<circle cx="765.3" cy="822.0" r="1.2" fill="#ff0000"/>
<circle cx="788.1" cy="823.2" r="1.2" fill="#ff0000"/>
<circle cx="746.9" cy="823.1" r="1.2" fill="#ff0000"/>
<circle cx="771.6" cy="824.4" r="1.2" fill="#ff0000"/>
<circle cx="742.5" cy="823.2" r="1.2" fill="#ff0000"/>
<circle cx="759.7" cy="824.5" r="1.2" fill="#ff0000"/>
<circle cx="726.0" cy="824.1" r="1.2" fill="#ff0000"/>
<circle cx="784.8" cy="823.1" r="1.2" fill="#ff0000"/>
<circle cx="708.1" cy="822.3" r="1.2" fill="#ff0000"/>
<circle cx="759.4" cy="823.9" r="1.2" fill="#ff0000"/>
<circle cx="784.7" cy="824.5" r="1.2" fill="#ff0000"/>
<circle cx="709.4" cy="822.2" r="1.2" fill="#ff0000"/>
<circle cx="711.2" cy="822.2" r="1.2" fill="#ff0000"/>
<circle cx="758.0" cy="824.5" r="1.2" fill="#ff0000"/>
<circle cx="778.5" cy="822.4" r="1.2" fill="#ff0000"/>
<circle cx="774.8" cy="822.6" r="1.2" fill="#ff0000"/>
<circle cx="728.4" cy="824.1" r="1.2" fill="#ff0000"/>
<circle cx="693.0" cy="821.8" r="1.2" fill="#ff0000"/>
<circle cx="771.6" cy="822.5" r="1.2" fill="#ff0000"/>
<circle cx="721.4" cy="823.5" r="1.2" fill="#ff0000"/>
<circle cx="754.9" cy="821.5" r="1.2" fill="#ff0000"/>
<circle cx="719.2" cy="823.0" r="1.2" fill="#ff0000"/>
<circle cx="735.0" cy="822.2" r="1.2" fill="#ff0000"/>
<circle cx="745.4" cy="824.8" r="1.2" fill="#ff0000"/>
<circle cx="725.0" cy="823.4" r="1.2" fill="#ff0000"/>
<circle cx="696.5" cy="822.5" r="1.2" fill="#ff0000"/>
<circle cx="753.9" cy="821.9" r="1.2" fill="#ff0000"/>
<circle cx="777.2" cy="824.7" r="1.2" fill="#ff0000"/>
<circle cx="694.2" cy="824.8" r="1.2" fill="#ff0000"/>
<circle cx="723.3" cy="824.2" r="1.2" fill="#ff0000"/>
<circle cx="763.5" cy="822.5" r="1.2" fill="#ff0000"/>
<circle cx="755.0" cy="823.8" r="1.2" fill="#ff0000"/>
<circle cx="796.7" cy="823.4" r="1.3" fill="#ff0000"/>
<circle cx="800.0" cy="823.4" r="1.3" fill="#ff0000"/>
<circle cx="803.0" cy="823.4" r="1.3" fill="#ff0000"/>
<circle cx="806.5" cy="823.4" r="1.3" fill="#ff0000"/>
<circle cx="810.6" cy="823.4" r="1.3" fill="#ff0000"/>
<circle cx="819.6" cy="823.4" r="1.3" fill="#ff0000"/>
<circle cx="877.2" cy="823.4" r="1.3" fill="#ff0000"/>
<circle cx="810.9" cy="587.9" r="6" fill="#ff0000"/>
<text x="825.6" y="594.9" font-size="20.7" textLength="46.5" lengthAdjust="spacingAndGlyphs">HeLa</text>
<circle cx="810.9" cy="611.8" r="6" fill="#0000ff"/>
<text x="824.8" y="617.8" font-size="20.7" textLength="45.5" lengthAdjust="spacingAndGlyphs">293T</text>
<circle cx="810.9" cy="635.7" r="6" fill="#ff8c1a"/>
<text x="825.6" y="643.7" font-size="20.7" textLength="81.6" lengthAdjust="spacingAndGlyphs">Doublets</text>
<text transform="translate(962.5,28.3) scale(1.08,1)" font-size="34" font-weight="bold" stroke="#000" stroke-width="1.1">e</text>
<line x1="1084.2" y1="15.5" x2="1084.2" y2="280.3" stroke="#000" stroke-width="2"/>
<line x1="1083.2" y1="279.4" x2="1356.2" y2="279.4" stroke="#000" stroke-width="2"/>
<line x1="1079.5" y1="267.6" x2="1084.2" y2="267.6" stroke="#000" stroke-width="1.8"/>
<text x="1074.8" y="274.8" font-size="20" text-anchor="end" textLength="10.8" lengthAdjust="spacingAndGlyphs">0</text>
<line x1="1079.5" y1="231.4" x2="1084.2" y2="231.4" stroke="#000" stroke-width="1.8"/>
<text x="1074.8" y="238.6" font-size="20" text-anchor="end" textLength="22.0" lengthAdjust="spacingAndGlyphs">20</text>
<line x1="1079.5" y1="195.1" x2="1084.2" y2="195.1" stroke="#000" stroke-width="1.8"/>
<text x="1074.8" y="202.3" font-size="20" text-anchor="end" textLength="22.0" lengthAdjust="spacingAndGlyphs">40</text>
<line x1="1079.5" y1="158.9" x2="1084.2" y2="158.9" stroke="#000" stroke-width="1.8"/>
<text x="1074.8" y="166.1" font-size="20" text-anchor="end" textLength="22.0" lengthAdjust="spacingAndGlyphs">60</text>
<line x1="1079.5" y1="122.6" x2="1084.2" y2="122.6" stroke="#000" stroke-width="1.8"/>
<text x="1074.8" y="129.8" font-size="20" text-anchor="end" textLength="22.0" lengthAdjust="spacingAndGlyphs">80</text>
<line x1="1079.5" y1="86.4" x2="1084.2" y2="86.4" stroke="#000" stroke-width="1.8"/>
<text x="1074.8" y="93.6" font-size="20" text-anchor="end" textLength="33.0" lengthAdjust="spacingAndGlyphs">100</text>
<line x1="1079.5" y1="50.1" x2="1084.2" y2="50.1" stroke="#000" stroke-width="1.8"/>
<text x="1074.8" y="57.3" font-size="20" text-anchor="end" textLength="33.0" lengthAdjust="spacingAndGlyphs">120</text>
<line x1="1096.5" y1="279.4" x2="1096.5" y2="284.6" stroke="#000" stroke-width="1.8"/>
<text x="1096.5" y="304.8" font-size="19.5" text-anchor="middle" textLength="10.5" lengthAdjust="spacingAndGlyphs">0</text>
<line x1="1166.2" y1="279.4" x2="1166.2" y2="284.6" stroke="#000" stroke-width="1.8"/>
<text x="1166.2" y="304.8" font-size="19.5" text-anchor="middle" textLength="50.5" lengthAdjust="spacingAndGlyphs">1,000</text>
<line x1="1235.8" y1="279.4" x2="1235.8" y2="284.6" stroke="#000" stroke-width="1.8"/>
<text x="1235.8" y="304.8" font-size="19.5" text-anchor="middle" textLength="50.5" lengthAdjust="spacingAndGlyphs">2,000</text>
<line x1="1305.5" y1="279.4" x2="1305.5" y2="284.6" stroke="#000" stroke-width="1.8"/>
<text x="1305.5" y="304.8" font-size="19.5" text-anchor="middle" textLength="50.5" lengthAdjust="spacingAndGlyphs">3,000</text>
<text x="1135.1" y="333.6" font-size="20" textLength="181.9" lengthAdjust="spacingAndGlyphs">Mean reads per cell</text>
<text transform="translate(1024.2,257.4) rotate(-90)" font-size="20" textLength="197.4" lengthAdjust="spacingAndGlyphs">Median UMIs per cell</text>
<polyline points="1096.5,267.6 1100.0,200.7 1103.5,155.2 1106.9,122.6 1110.4,101.2 1113.9,83.3 1117.4,72.6 1120.9,61.7 1124.4,56.4 1127.8,51.0 1131.3,47.0 1134.8,43.6 1138.3,41.2 1141.8,39.4 1145.3,37.8 1148.7,36.3 1152.2,35.4 1155.7,34.2 1159.2,33.6 1162.7,32.5 1166.2,32.5 1169.6,32.5 1173.1,32.4 1176.6,32.3 1180.1,30.5 1183.6,33.4 1187.0,30.7 1190.5,30.5 1194.0,30.3 1197.5,30.2 1201.0,29.3 1204.5,29.3 1207.9,29.3 1211.4,29.3 1214.9,29.3 1218.4,29.3 1221.9,29.3 1225.4,29.3 1228.8,29.3 1232.3,29.3 1235.8,29.3 1239.3,29.3 1242.8,29.3 1246.2,29.3 1249.7,29.3 1253.2,27.8 1256.7,27.8 1260.2,27.8 1263.7,27.8 1267.1,27.8 1270.6,27.8 1274.1,27.8 1277.6,27.8 1281.1,27.8 1284.6,27.7 1288.0,27.7 1291.5,27.7 1295.0,27.7 1298.5,27.7 1302.0,27.7 1305.5,27.7 1308.9,27.7 1312.4,27.7 1315.9,27.7 1319.4,27.7 1322.9,27.7 1326.3,27.7 1329.8,27.7 1333.3,27.6 1336.8,27.6 1340.3,27.6 1343.8,27.6" fill="none" stroke="#000" stroke-width="1.3"/>
<circle cx="1096.5" cy="267.6" r="2.7" fill="#000" stroke="#fff" stroke-width="1.1"/>
<circle cx="1100.0" cy="200.7" r="2.7" fill="#000" stroke="#fff" stroke-width="1.1"/>
<circle cx="1103.5" cy="155.2" r="2.7" fill="#000" stroke="#fff" stroke-width="1.1"/>
<circle cx="1106.9" cy="122.6" r="2.7" fill="#000" stroke="#fff" stroke-width="1.1"/>
<circle cx="1110.4" cy="101.2" r="2.7" fill="#000" stroke="#fff" stroke-width="1.1"/>
<circle cx="1113.9" cy="83.3" r="2.7" fill="#000" stroke="#fff" stroke-width="1.1"/>
<circle cx="1117.4" cy="72.6" r="2.7" fill="#000" stroke="#fff" stroke-width="1.1"/>
<circle cx="1120.9" cy="61.7" r="2.7" fill="#000" stroke="#fff" stroke-width="1.1"/>
<circle cx="1124.4" cy="56.4" r="2.7" fill="#000" stroke="#fff" stroke-width="1.1"/>
<circle cx="1127.8" cy="51.0" r="2.7" fill="#000" stroke="#fff" stroke-width="1.1"/>
<circle cx="1131.3" cy="47.0" r="2.7" fill="#000" stroke="#fff" stroke-width="1.1"/>
<circle cx="1134.8" cy="43.6" r="2.7" fill="#000" stroke="#fff" stroke-width="1.1"/>
<circle cx="1138.3" cy="41.2" r="2.7" fill="#000" stroke="#fff" stroke-width="1.1"/>
<circle cx="1141.8" cy="39.4" r="2.7" fill="#000" stroke="#fff" stroke-width="1.1"/>
<circle cx="1145.3" cy="37.8" r="2.7" fill="#000" stroke="#fff" stroke-width="1.1"/>
<circle cx="1148.7" cy="36.3" r="2.7" fill="#000" stroke="#fff" stroke-width="1.1"/>
<circle cx="1152.2" cy="35.4" r="2.7" fill="#000" stroke="#fff" stroke-width="1.1"/>
<circle cx="1155.7" cy="34.2" r="2.7" fill="#000" stroke="#fff" stroke-width="1.1"/>
<circle cx="1159.2" cy="33.6" r="2.7" fill="#000" stroke="#fff" stroke-width="1.1"/>
<circle cx="1162.7" cy="32.5" r="2.7" fill="#000" stroke="#fff" stroke-width="1.1"/>
<circle cx="1166.2" cy="32.5" r="2.7" fill="#000" stroke="#fff" stroke-width="1.1"/>
<circle cx="1169.6" cy="32.5" r="2.7" fill="#000" stroke="#fff" stroke-width="1.1"/>
<circle cx="1173.1" cy="32.4" r="2.7" fill="#000" stroke="#fff" stroke-width="1.1"/>
<circle cx="1176.6" cy="32.3" r="2.7" fill="#000" stroke="#fff" stroke-width="1.1"/>
<circle cx="1180.1" cy="30.5" r="2.7" fill="#000" stroke="#fff" stroke-width="1.1"/>
<circle cx="1183.6" cy="33.4" r="2.7" fill="#000" stroke="#fff" stroke-width="1.1"/>
<circle cx="1187.0" cy="30.7" r="2.7" fill="#000" stroke="#fff" stroke-width="1.1"/>
<circle cx="1190.5" cy="30.5" r="2.7" fill="#000" stroke="#fff" stroke-width="1.1"/>
<circle cx="1194.0" cy="30.3" r="2.7" fill="#000" stroke="#fff" stroke-width="1.1"/>
<circle cx="1197.5" cy="30.2" r="2.7" fill="#000" stroke="#fff" stroke-width="1.1"/>
<circle cx="1201.0" cy="29.3" r="2.7" fill="#000" stroke="#fff" stroke-width="1.1"/>
<circle cx="1204.5" cy="29.3" r="2.7" fill="#000" stroke="#fff" stroke-width="1.1"/>
<circle cx="1207.9" cy="29.3" r="2.7" fill="#000" stroke="#fff" stroke-width="1.1"/>
<circle cx="1211.4" cy="29.3" r="2.7" fill="#000" stroke="#fff" stroke-width="1.1"/>
<circle cx="1214.9" cy="29.3" r="2.7" fill="#000" stroke="#fff" stroke-width="1.1"/>
<circle cx="1218.4" cy="29.3" r="2.7" fill="#000" stroke="#fff" stroke-width="1.1"/>
<circle cx="1221.9" cy="29.3" r="2.7" fill="#000" stroke="#fff" stroke-width="1.1"/>
<circle cx="1225.4" cy="29.3" r="2.7" fill="#000" stroke="#fff" stroke-width="1.1"/>
<circle cx="1228.8" cy="29.3" r="2.7" fill="#000" stroke="#fff" stroke-width="1.1"/>
<circle cx="1232.3" cy="29.3" r="2.7" fill="#000" stroke="#fff" stroke-width="1.1"/>
<circle cx="1235.8" cy="29.3" r="2.7" fill="#000" stroke="#fff" stroke-width="1.1"/>
<circle cx="1239.3" cy="29.3" r="2.7" fill="#000" stroke="#fff" stroke-width="1.1"/>
<circle cx="1242.8" cy="29.3" r="2.7" fill="#000" stroke="#fff" stroke-width="1.1"/>
<circle cx="1246.2" cy="29.3" r="2.7" fill="#000" stroke="#fff" stroke-width="1.1"/>
<circle cx="1249.7" cy="29.3" r="2.7" fill="#000" stroke="#fff" stroke-width="1.1"/>
<circle cx="1253.2" cy="27.8" r="2.7" fill="#000" stroke="#fff" stroke-width="1.1"/>
<circle cx="1256.7" cy="27.8" r="2.7" fill="#000" stroke="#fff" stroke-width="1.1"/>
<circle cx="1260.2" cy="27.8" r="2.7" fill="#000" stroke="#fff" stroke-width="1.1"/>
<circle cx="1263.7" cy="27.8" r="2.7" fill="#000" stroke="#fff" stroke-width="1.1"/>
<circle cx="1267.1" cy="27.8" r="2.7" fill="#000" stroke="#fff" stroke-width="1.1"/>
<circle cx="1270.6" cy="27.8" r="2.7" fill="#000" stroke="#fff" stroke-width="1.1"/>
<circle cx="1274.1" cy="27.8" r="2.7" fill="#000" stroke="#fff" stroke-width="1.1"/>
<circle cx="1277.6" cy="27.8" r="2.7" fill="#000" stroke="#fff" stroke-width="1.1"/>
<circle cx="1281.1" cy="27.8" r="2.7" fill="#000" stroke="#fff" stroke-width="1.1"/>
<circle cx="1284.6" cy="27.7" r="2.7" fill="#000" stroke="#fff" stroke-width="1.1"/>
<circle cx="1288.0" cy="27.7" r="2.7" fill="#000" stroke="#fff" stroke-width="1.1"/>
<circle cx="1291.5" cy="27.7" r="2.7" fill="#000" stroke="#fff" stroke-width="1.1"/>
<circle cx="1295.0" cy="27.7" r="2.7" fill="#000" stroke="#fff" stroke-width="1.1"/>
<circle cx="1298.5" cy="27.7" r="2.7" fill="#000" stroke="#fff" stroke-width="1.1"/>
<circle cx="1302.0" cy="27.7" r="2.7" fill="#000" stroke="#fff" stroke-width="1.1"/>
<circle cx="1305.5" cy="27.7" r="2.7" fill="#000" stroke="#fff" stroke-width="1.1"/>
<circle cx="1308.9" cy="27.7" r="2.7" fill="#000" stroke="#fff" stroke-width="1.1"/>
<circle cx="1312.4" cy="27.7" r="2.7" fill="#000" stroke="#fff" stroke-width="1.1"/>
<circle cx="1315.9" cy="27.7" r="2.7" fill="#000" stroke="#fff" stroke-width="1.1"/>
<circle cx="1319.4" cy="27.7" r="2.7" fill="#000" stroke="#fff" stroke-width="1.1"/>
<circle cx="1322.9" cy="27.7" r="2.7" fill="#000" stroke="#fff" stroke-width="1.1"/>
<circle cx="1326.3" cy="27.7" r="2.7" fill="#000" stroke="#fff" stroke-width="1.1"/>
<circle cx="1329.8" cy="27.7" r="2.7" fill="#000" stroke="#fff" stroke-width="1.1"/>
<circle cx="1333.3" cy="27.6" r="2.7" fill="#000" stroke="#fff" stroke-width="1.1"/>
<circle cx="1336.8" cy="27.6" r="2.7" fill="#000" stroke="#fff" stroke-width="1.1"/>
<circle cx="1340.3" cy="27.6" r="2.7" fill="#000" stroke="#fff" stroke-width="1.1"/>
<circle cx="1343.8" cy="27.6" r="2.7" fill="#000" stroke="#fff" stroke-width="1.1"/>
<text transform="translate(961.8,376.8) scale(1.25,1)" font-size="32" font-weight="bold" stroke="#000" stroke-width="1.1">f</text>
<text x="964.7" y="411.1" font-size="20" textLength="135.4" lengthAdjust="spacingAndGlyphs">EtBr treatment</text>
<text x="1100.1" y="436.2" font-size="20" text-anchor="end" textLength="106.7" lengthAdjust="spacingAndGlyphs">time (days):</text>
<line x1="1109.8" y1="446.0" x2="1109.8" y2="838.8" stroke="#000" stroke-width="2"/>
<line x1="1108.8" y1="837.8" x2="1372.0" y2="837.8" stroke="#000" stroke-width="2"/>
<line x1="1109.8" y1="837.8" x2="1109.8" y2="848.8" stroke="#000" stroke-width="1.8"/>
<text x="1109.8" y="872.5" font-size="19.5" text-anchor="middle" textLength="10.5" lengthAdjust="spacingAndGlyphs">0</text>
<line x1="1197.2" y1="837.8" x2="1197.2" y2="848.8" stroke="#000" stroke-width="1.8"/>
<text x="1197.2" y="872.5" font-size="19.5" text-anchor="middle" textLength="28.0" lengthAdjust="spacingAndGlyphs">0.5</text>
<line x1="1284.7" y1="837.8" x2="1284.7" y2="848.8" stroke="#000" stroke-width="1.8"/>
<text x="1284.7" y="872.5" font-size="19.5" text-anchor="middle" textLength="28.0" lengthAdjust="spacingAndGlyphs">1.0</text>
<line x1="1372.2" y1="837.8" x2="1372.2" y2="848.8" stroke="#000" stroke-width="1.8"/>
<text x="1372.2" y="872.5" font-size="19.5" text-anchor="middle" textLength="28.0" lengthAdjust="spacingAndGlyphs">1.5</text>
<text x="1147.3" y="898.9" font-size="20" textLength="192.9" lengthAdjust="spacingAndGlyphs">Relative mtDNA level</text>
<line x1="1084.0" y1="455.5" x2="1084.0" y2="557.6" stroke="#000" stroke-width="1.8"/>
<rect x="1110.6" y="456.8" width="4.2" height="16.6" fill="#e8e8e8" stroke="#000" stroke-width="1.9"/>
<text x="1098.7" y="472.8" font-size="20.3" text-anchor="middle" textLength="11.0" lengthAdjust="spacingAndGlyphs">3</text>
<rect x="1110.6" y="485.6" width="10.4" height="16.6" fill="#e8e8e8" stroke="#000" stroke-width="1.9"/>
<text x="1098.7" y="501.6" font-size="20.3" text-anchor="middle" textLength="11.0" lengthAdjust="spacingAndGlyphs">2</text>
<rect x="1110.6" y="514.3" width="29.8" height="16.6" fill="#e8e8e8" stroke="#000" stroke-width="1.9"/>
<text x="1098.7" y="530.3" font-size="20.3" text-anchor="middle" textLength="11.0" lengthAdjust="spacingAndGlyphs">1</text>
<rect x="1110.6" y="543.0" width="167.4" height="16.6" fill="#e8e8e8" stroke="#000" stroke-width="1.9"/>
<text x="1098.7" y="559.0" font-size="20.3" text-anchor="middle" textLength="11.0" lengthAdjust="spacingAndGlyphs">0</text>
<text x="1070.1" y="501.5" font-size="20" text-anchor="end" textLength="65.2" lengthAdjust="spacingAndGlyphs">mtRNA</text>
<text x="1070.1" y="526.2" font-size="20" text-anchor="end" textLength="82.5" lengthAdjust="spacingAndGlyphs">SCI-LITE</text>
<line x1="1084.0" y1="590.3" x2="1084.0" y2="691.1" stroke="#000" stroke-width="1.8"/>
<rect x="1110.6" y="591.3" width="1.8" height="16.6" fill="#ababab" stroke="#000" stroke-width="1.9"/>
<text x="1098.7" y="607.3" font-size="20.3" text-anchor="middle" textLength="11.0" lengthAdjust="spacingAndGlyphs">3</text>
<rect x="1110.6" y="620.0" width="10.8" height="16.6" fill="#ababab" stroke="#000" stroke-width="1.9"/>
<text x="1098.7" y="636.0" font-size="20.3" text-anchor="middle" textLength="11.0" lengthAdjust="spacingAndGlyphs">2</text>
<rect x="1110.6" y="648.8" width="36.9" height="16.6" fill="#ababab" stroke="#000" stroke-width="1.9"/>
<text x="1098.7" y="664.8" font-size="20.3" text-anchor="middle" textLength="11.0" lengthAdjust="spacingAndGlyphs">1</text>
<rect x="1110.6" y="677.5" width="167.1" height="16.6" fill="#ababab" stroke="#000" stroke-width="1.9"/>
<text x="1098.7" y="693.5" font-size="20.3" text-anchor="middle" textLength="11.0" lengthAdjust="spacingAndGlyphs">0</text>
<text x="1070.1" y="636.0" font-size="20" text-anchor="end" textLength="65.2" lengthAdjust="spacingAndGlyphs">mtRNA</text>
<text x="1070.1" y="660.7" font-size="20" text-anchor="end" textLength="89.7" lengthAdjust="spacingAndGlyphs">RT–qPCR</text>
<line x1="1084.0" y1="725.1" x2="1084.0" y2="825.5" stroke="#000" stroke-width="1.8"/>
<rect x="1110.6" y="724.8" width="11.0" height="16.6" fill="#676767" stroke="#000" stroke-width="1.9"/>
<text x="1098.7" y="740.8" font-size="20.3" text-anchor="middle" textLength="11.0" lengthAdjust="spacingAndGlyphs">3</text>
<rect x="1110.6" y="753.5" width="44.0" height="16.6" fill="#676767" stroke="#000" stroke-width="1.9"/>
<text x="1098.7" y="769.5" font-size="20.3" text-anchor="middle" textLength="11.0" lengthAdjust="spacingAndGlyphs">2</text>
<rect x="1110.6" y="782.3" width="78.3" height="16.6" fill="#676767" stroke="#000" stroke-width="1.9"/>
<text x="1098.7" y="798.3" font-size="20.3" text-anchor="middle" textLength="11.0" lengthAdjust="spacingAndGlyphs">1</text>
<rect x="1110.6" y="811.0" width="177.0" height="16.6" fill="#676767" stroke="#000" stroke-width="1.9"/>
<text x="1098.7" y="827.0" font-size="20.3" text-anchor="middle" textLength="11.0" lengthAdjust="spacingAndGlyphs">0</text>
<text x="1070.1" y="769.5" font-size="20" text-anchor="end" textLength="66.4" lengthAdjust="spacingAndGlyphs">mtDNA</text>
<text x="1070.1" y="794.2" font-size="20" text-anchor="end" textLength="53.9" lengthAdjust="spacingAndGlyphs">qPCR</text>
<line x1="1253.4" y1="551.6" x2="1305.0" y2="551.6" stroke="#000" stroke-width="1.5"/>
<line x1="1253.4" y1="547.4" x2="1253.4" y2="555.8" stroke="#000" stroke-width="1.5"/>
<line x1="1305.0" y1="547.4" x2="1305.0" y2="555.8" stroke="#000" stroke-width="1.5"/>
<circle cx="1253.4" cy="551.6" r="1.8" fill="#000"/>
<circle cx="1284.4" cy="551.6" r="1.8" fill="#000"/>
<line x1="1137.0" y1="523.7" x2="1151.3" y2="523.7" stroke="#000" stroke-width="1.5"/>
<line x1="1137.0" y1="519.5" x2="1137.0" y2="527.9" stroke="#000" stroke-width="1.5"/>
<line x1="1151.3" y1="519.5" x2="1151.3" y2="527.9" stroke="#000" stroke-width="1.5"/>
<circle cx="1138.0" cy="523.7" r="1.8" fill="#000"/>
<circle cx="1141.0" cy="523.7" r="1.8" fill="#000"/>
<line x1="1259.4" y1="685.5" x2="1298.9" y2="685.5" stroke="#000" stroke-width="1.5"/>
<line x1="1259.4" y1="681.3" x2="1259.4" y2="689.7" stroke="#000" stroke-width="1.5"/>
<line x1="1298.9" y1="681.3" x2="1298.9" y2="689.7" stroke="#000" stroke-width="1.5"/>
<circle cx="1257.6" cy="685.5" r="1.8" fill="#000"/>
<circle cx="1284.1" cy="685.5" r="1.8" fill="#000"/>
<circle cx="1295.8" cy="685.5" r="1.8" fill="#000"/>
<line x1="1267.0" y1="819.6" x2="1314.3" y2="819.6" stroke="#000" stroke-width="1.5"/>
<line x1="1267.0" y1="815.4" x2="1267.0" y2="823.8" stroke="#000" stroke-width="1.5"/>
<line x1="1314.3" y1="815.4" x2="1314.3" y2="823.8" stroke="#000" stroke-width="1.5"/>
<circle cx="1267.0" cy="819.6" r="1.8" fill="#000"/>
<circle cx="1283.7" cy="819.6" r="1.8" fill="#000"/>
<circle cx="1314.3" cy="819.6" r="1.8" fill="#000"/>
<line x1="1185.0" y1="790.8" x2="1196.8" y2="790.8" stroke="#000" stroke-width="1.5"/>
<line x1="1185.0" y1="786.6" x2="1185.0" y2="795.0" stroke="#000" stroke-width="1.5"/>
<line x1="1196.8" y1="786.6" x2="1196.8" y2="795.0" stroke="#000" stroke-width="1.5"/>
<circle cx="1184.0" cy="790.8" r="1.8" fill="#000"/>
<circle cx="1186.0" cy="790.8" r="1.8" fill="#000"/>
<circle cx="1115.7" cy="457.0" r="1.6" fill="#000"/>
<circle cx="1115.7" cy="465.0" r="1.6" fill="#000"/>
<circle cx="1115.7" cy="473.0" r="1.6" fill="#000"/>
<circle cx="1121.9" cy="486.0" r="1.6" fill="#000"/>
<circle cx="1121.9" cy="494.0" r="1.6" fill="#000"/>
<circle cx="1121.9" cy="502.0" r="1.6" fill="#000"/>
<circle cx="1113.3" cy="592.0" r="1.6" fill="#000"/>
<circle cx="1113.3" cy="600.0" r="1.6" fill="#000"/>
<circle cx="1113.3" cy="607.0" r="1.6" fill="#000"/>
<circle cx="1122.3" cy="620.0" r="1.6" fill="#000"/>
<circle cx="1122.3" cy="628.0" r="1.6" fill="#000"/>
<circle cx="1122.3" cy="636.0" r="1.6" fill="#000"/>
<circle cx="1148.4" cy="649.0" r="1.6" fill="#000"/>
<circle cx="1148.4" cy="657.0" r="1.6" fill="#000"/>
<circle cx="1148.4" cy="664.0" r="1.6" fill="#000"/>
<circle cx="1122.5" cy="726.0" r="1.6" fill="#000"/>
<circle cx="1122.5" cy="733.0" r="1.6" fill="#000"/>
<circle cx="1122.5" cy="741.0" r="1.6" fill="#000"/>
<circle cx="1155.5" cy="754.0" r="1.6" fill="#000"/>
<circle cx="1155.5" cy="762.0" r="1.6" fill="#000"/>
<circle cx="1155.5" cy="770.0" r="1.6" fill="#000"/>
<path d="M1302.5,456.5 H1309.5 V591.3 H1302.5" fill="none" stroke="#000" stroke-width="1.8"/>
<path d="M1302.5,599.4 H1309.5 V733.9 H1302.5" fill="none" stroke="#000" stroke-width="1.8"/>
<path d="M1333.2,482.5 H1340.2 V616.6 H1333.2" fill="none" stroke="#000" stroke-width="1.8"/>
<path d="M1333.2,624.8 H1340.2 V760.5 H1333.2" fill="none" stroke="#000" stroke-width="1.8"/>
<path d="M1368.3,510.8 H1375.3 V645.2 H1368.3" fill="none" stroke="#000" stroke-width="1.8"/>
<path d="M1368.3,653.1 H1375.3 V788.4 H1368.3" fill="none" stroke="#000" stroke-width="1.8"/>
<text transform="translate(1330.2,579.1) rotate(-90)" font-size="20.8" textLength="86.7" lengthAdjust="spacingAndGlyphs"><tspan dy="-3">*</tspan><tspan font-style="italic" dy="3">P</tspan> = 0.02</text>
<text transform="translate(1362.5,608.6) rotate(-90)" font-size="20.8" textLength="111.6" lengthAdjust="spacingAndGlyphs"><tspan font-style="italic">P</tspan> = 0.37 NS</text>
<text transform="translate(1399.0,629.7) rotate(-90)" font-size="20.8" textLength="98.6" lengthAdjust="spacingAndGlyphs"><tspan font-style="italic">P</tspan> = 0.2 NS</text>
<text transform="translate(1330.2,752.4) rotate(-90)" font-size="20.8" textLength="129.9" lengthAdjust="spacingAndGlyphs"><tspan dy="-3">***</tspan><tspan font-style="italic" dy="3">P</tspan> = 0.0003</text>
<text transform="translate(1362.2,762.9) rotate(-90)" font-size="20.8" textLength="139.3" lengthAdjust="spacingAndGlyphs"><tspan dy="-3">****</tspan><tspan font-style="italic" dy="3">P</tspan> &lt; 0.0001</text>
<text transform="translate(1399.5,788.4) rotate(-90)" font-size="20.8" textLength="131.1" lengthAdjust="spacingAndGlyphs"><tspan dy="-3">***</tspan><tspan font-style="italic" dy="3">P</tspan> = 0.0002</text>
</svg></body></html>
